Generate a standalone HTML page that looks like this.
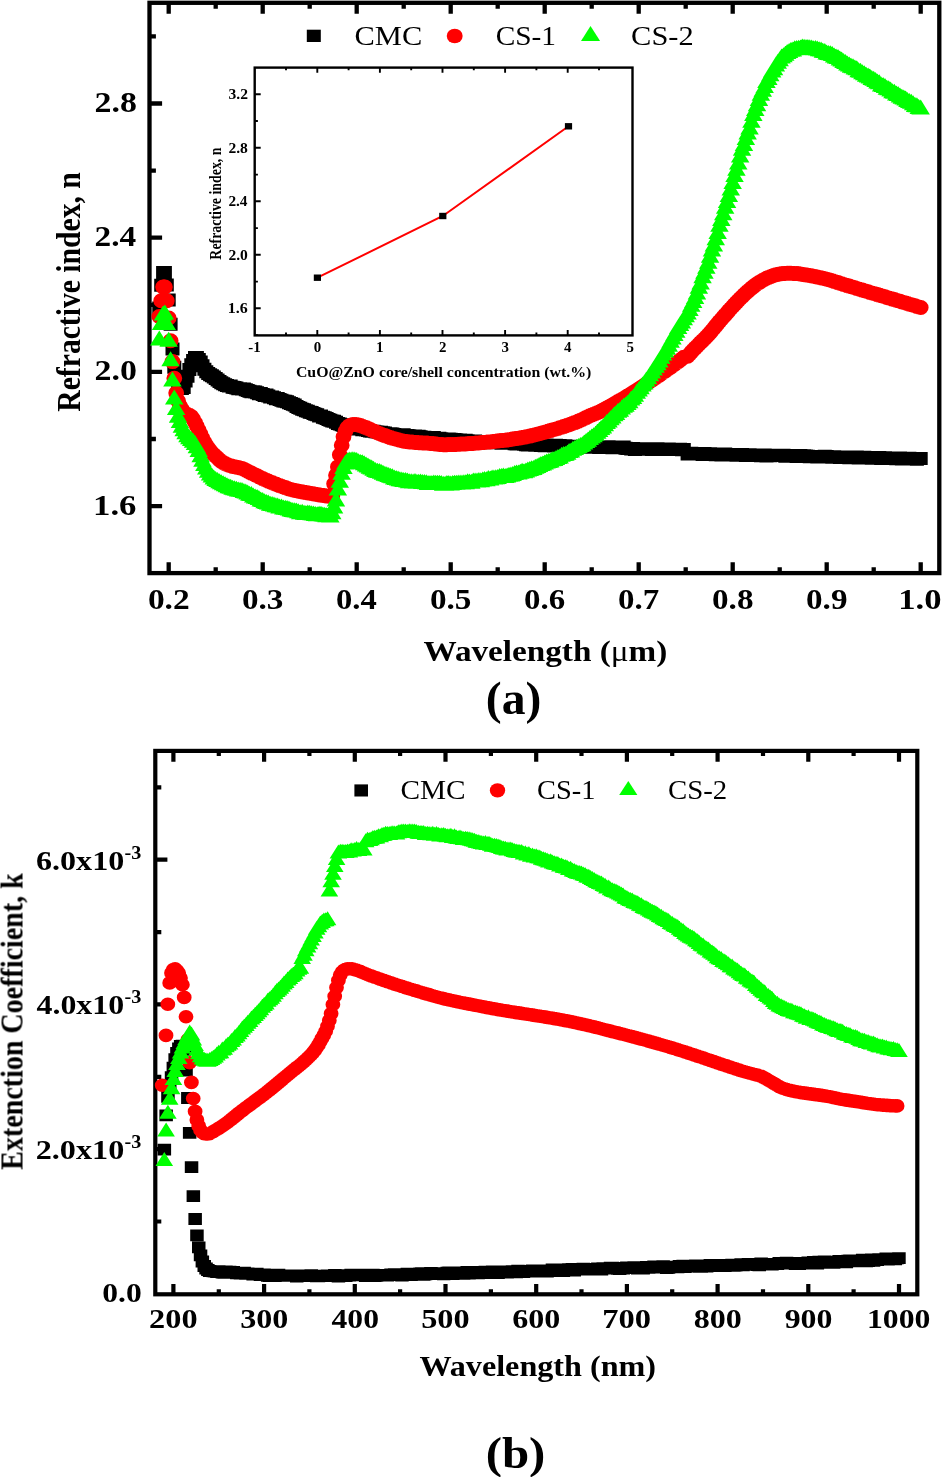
<!DOCTYPE html><html><head><meta charset="utf-8"><title>chart</title><style>html,body{margin:0;padding:0;background:#fff}svg{display:block}text{font-family:"Liberation Serif",serif;fill:#000}</style></head><body>
<svg width="942" height="1477" viewBox="0 0 942 1477">
<rect width="942" height="1477" fill="#fff"/>
<g stroke="#000" stroke-width="4.3" fill="none">
<rect x="149.5" y="2.8" width="789.8" height="570.3"/>
<path d="M168.7 573.1V562.2 M168.7 2.8V13.8M262.7 573.1V562.2 M262.7 2.8V13.8M356.7 573.1V562.2 M356.7 2.8V13.8M450.7 573.1V562.2 M450.7 2.8V13.8M544.7 573.1V562.2 M544.7 2.8V13.8M638.7 573.1V562.2 M638.7 2.8V13.8M732.7 573.1V562.2 M732.7 2.8V13.8M826.7 573.1V562.2 M826.7 2.8V13.8M920.7 573.1V562.2 M920.7 2.8V13.8M215.7 573.1V567.3 M215.7 2.8V8.7M309.7 573.1V567.3 M309.7 2.8V8.7M403.7 573.1V567.3 M403.7 2.8V8.7M497.7 573.1V567.3 M497.7 2.8V8.7M591.7 573.1V567.3 M591.7 2.8V8.7M685.7 573.1V567.3 M685.7 2.8V8.7M779.7 573.1V567.3 M779.7 2.8V8.7M873.7 573.1V567.3 M873.7 2.8V8.7M149.5 103.5H162.1M149.5 36.4H155.9M149.5 237.7H162.1M149.5 170.6H155.9M149.5 371.9H162.1M149.5 304.8H155.9M149.5 506.1H162.1M149.5 439H155.9"/>
</g>
<path fill="#000" d="M152.3 301.5h14v13h-14zM154.2 278.7h14v13h-14zM156.1 266h14v13h-14zM157.9 266h14v13h-14zM159.8 278.6h14v13h-14zM161.7 293.5h14v13h-14zM163.6 317.7h14v13h-14zM165.5 342.5h14v13h-14zM167.3 360.8h14v13h-14zM169.2 370.6h14v13h-14zM171.1 377h14v13h-14zM173 380.5h14v13h-14zM174.9 381.9h14v13h-14zM176.7 381.1h14v13h-14zM178.6 374.5h14v13h-14zM180.5 369.8h14v13h-14zM182.4 362.9h14v13h-14zM184.3 358.2h14v13h-14zM186.1 353.9h14v13h-14zM188 351h14v13h-14zM189.9 351h14v13h-14zM191.8 352.9h14v13h-14zM193.7 355.6h14v13h-14zM195.5 359.2h14v13h-14zM197.4 362.7h14v13h-14zM199.3 365.3h14v13h-14zM201.2 367h14v13h-14zM203.1 368.2h14v13h-14zM204.9 369.2h14v13h-14zM206.8 370.4h14v13h-14zM208.7 372h14v13h-14zM210.6 373.6h14v13h-14zM212.5 375h14v13h-14zM214.3 376.2h14v13h-14zM216.2 377.3h14v13h-14zM218.1 378.2h14v13h-14zM220 378.9h14v13h-14zM221.9 379.5h14v13h-14zM223.7 379.6h14v13h-14zM225.6 380.8h14v13h-14zM227.5 380.9h14v13h-14zM229.4 381.6h14v13h-14zM231.3 382.3h14v13h-14zM233.1 382.2h14v13h-14zM235 382.6h14v13h-14zM236.9 382.6h14v13h-14zM238.8 383.3h14v13h-14zM240.7 384h14v13h-14zM242.5 384.7h14v13h-14zM244.4 385.3h14v13h-14zM246.3 385.3h14v13h-14zM248.2 385.5h14v13h-14zM250.1 386.2h14v13h-14zM251.9 387.3h14v13h-14zM253.8 387.1h14v13h-14zM255.7 387.9h14v13h-14zM257.6 388.9h14v13h-14zM259.5 388.5h14v13h-14zM261.3 389.6h14v13h-14zM263.2 390.5h14v13h-14zM265.1 390.4h14v13h-14zM267 391.3h14v13h-14zM268.9 392.2h14v13h-14zM270.7 392h14v13h-14zM272.6 393h14v13h-14zM274.5 393.8h14v13h-14zM276.4 394.4h14v13h-14zM278.3 394.8h14v13h-14zM280.1 395.2h14v13h-14zM282 396.2h14v13h-14zM283.9 396.9h14v13h-14zM285.8 397.8h14v13h-14zM287.7 398.5h14v13h-14zM289.5 400h14v13h-14zM291.4 401.1h14v13h-14zM293.3 401.7h14v13h-14zM295.2 402.8h14v13h-14zM297.1 403.3h14v13h-14zM298.9 404.2h14v13h-14zM300.8 404.8h14v13h-14zM302.7 405.8h14v13h-14zM304.6 406.1h14v13h-14zM306.5 406.9h14v13h-14zM308.3 407.8h14v13h-14zM310.2 408.2h14v13h-14zM312.1 409.4h14v13h-14zM314 409.4h14v13h-14zM315.9 410.7h14v13h-14zM317.7 411.2h14v13h-14zM319.6 412h14v13h-14zM321.5 413.1h14v13h-14zM323.4 413.8h14v13h-14zM325.3 414.5h14v13h-14zM327.1 414.8h14v13h-14zM329 415.7h14v13h-14zM330.9 417h14v13h-14zM332.8 417.4h14v13h-14zM334.7 418.2h14v13h-14zM336.5 419.1h14v13h-14zM338.4 419.3h14v13h-14zM340.3 419.1h14v13h-14zM342.2 419.9h14v13h-14zM344.1 420.6h14v13h-14zM345.9 420.7h14v13h-14zM347.8 421.8h14v13h-14zM349.7 422.2h14v13h-14zM351.6 422.5h14v13h-14zM353.5 422.6h14v13h-14zM355.3 423.3h14v13h-14zM357.2 423h14v13h-14zM359.1 423.5h14v13h-14zM361 424h14v13h-14zM362.9 424.6h14v13h-14zM364.7 424.7h14v13h-14zM366.6 424.7h14v13h-14zM368.5 425.2h14v13h-14zM370.4 425.4h14v13h-14zM372.3 425.7h14v13h-14zM374.1 425.8h14v13h-14zM376 426.3h14v13h-14zM377.9 426.6h14v13h-14zM379.8 427.2h14v13h-14zM381.7 427.4h14v13h-14zM383.5 427.3h14v13h-14zM385.4 427.5h14v13h-14zM387.3 428h14v13h-14zM389.2 428.3h14v13h-14zM391.1 428.3h14v13h-14zM392.9 428.6h14v13h-14zM394.8 429h14v13h-14zM396.7 428.2h14v13h-14zM398.6 429.3h14v13h-14zM400.5 428.9h14v13h-14zM402.3 429.3h14v13h-14zM404.2 429.8h14v13h-14zM406.1 429.9h14v13h-14zM408 429.5h14v13h-14zM409.9 430.2h14v13h-14zM411.7 429.8h14v13h-14zM413.6 430.3h14v13h-14zM415.5 430.9h14v13h-14zM417.4 430.7h14v13h-14zM419.3 431.1h14v13h-14zM421.1 431.4h14v13h-14zM423 431.6h14v13h-14zM424.9 431.7h14v13h-14zM426.8 431.1h14v13h-14zM428.7 431.7h14v13h-14zM430.5 431.9h14v13h-14zM432.4 431.7h14v13h-14zM434.3 432.3h14v13h-14zM436.2 432.6h14v13h-14zM438.1 432.9h14v13h-14zM439.9 433.2h14v13h-14zM441.8 432.5h14v13h-14zM443.7 432.8h14v13h-14zM445.6 433.4h14v13h-14zM447.5 433h14v13h-14zM449.3 433.2h14v13h-14zM451.2 433.7h14v13h-14zM453.1 433.4h14v13h-14zM455 434.2h14v13h-14zM456.9 434.4h14v13h-14zM458.7 433.7h14v13h-14zM460.6 434.3h14v13h-14zM462.5 434.7h14v13h-14zM464.4 435h14v13h-14zM466.3 434.5h14v13h-14zM468.1 434.5h14v13h-14zM470 435.3h14v13h-14zM471.9 435.5h14v13h-14zM473.8 434.9h14v13h-14zM475.7 435.2h14v13h-14zM477.5 435.6h14v13h-14zM479.4 435.9h14v13h-14zM481.3 435.3h14v13h-14zM483.2 435.9h14v13h-14zM485.1 436.2h14v13h-14zM486.9 436h14v13h-14zM488.8 435.8h14v13h-14zM490.7 435.7h14v13h-14zM492.6 436.1h14v13h-14zM494.5 436.7h14v13h-14zM496.3 436.1h14v13h-14zM498.2 436.2h14v13h-14zM500.1 436.6h14v13h-14zM502 436.4h14v13h-14zM503.9 436.6h14v13h-14zM505.7 436.6h14v13h-14zM507.6 437.2h14v13h-14zM509.5 437.5h14v13h-14zM511.4 437.3h14v13h-14zM513.3 437.2h14v13h-14zM515.1 437.5h14v13h-14zM517 437.8h14v13h-14zM518.9 438.3h14v13h-14zM520.8 438.4h14v13h-14zM522.7 437.8h14v13h-14zM524.5 437.6h14v13h-14zM526.4 438.6h14v13h-14zM528.3 438.8h14v13h-14zM530.2 438.4h14v13h-14zM532.1 438.8h14v13h-14zM533.9 439h14v13h-14zM535.8 438.8h14v13h-14zM537.7 439.2h14v13h-14zM539.6 438.4h14v13h-14zM541.5 438.7h14v13h-14zM543.3 438.8h14v13h-14zM545.2 438.7h14v13h-14zM547.1 439.6h14v13h-14zM549 438.8h14v13h-14zM550.9 439.5h14v13h-14zM552.7 439h14v13h-14zM554.6 439.4h14v13h-14zM556.5 439.5h14v13h-14zM558.4 439.3h14v13h-14zM560.3 439.8h14v13h-14zM562.1 439.9h14v13h-14zM564 439.7h14v13h-14zM565.9 440.2h14v13h-14zM567.8 439.7h14v13h-14zM569.7 439.8h14v13h-14zM571.5 440h14v13h-14zM573.4 440.1h14v13h-14zM575.3 440h14v13h-14zM577.2 440.8h14v13h-14zM579.1 440.8h14v13h-14zM580.9 440.1h14v13h-14zM582.8 440.4h14v13h-14zM584.7 440.3h14v13h-14zM586.6 440.6h14v13h-14zM588.5 440.4h14v13h-14zM590.3 440.7h14v13h-14zM592.2 441.1h14v13h-14zM594.1 440.6h14v13h-14zM596 440.9h14v13h-14zM597.9 440.8h14v13h-14zM599.7 441h14v13h-14zM601.6 440.3h14v13h-14zM603.5 441h14v13h-14zM605.4 441.2h14v13h-14zM607.3 440.9h14v13h-14zM609.1 440.5h14v13h-14zM611 440.9h14v13h-14zM612.9 441h14v13h-14zM614.8 441h14v13h-14zM616.7 440.6h14v13h-14zM618.5 441.7h14v13h-14zM620.4 442.1h14v13h-14zM622.3 442h14v13h-14zM624.2 442.4h14v13h-14zM626.1 442h14v13h-14zM627.9 442.9h14v13h-14zM629.8 442.8h14v13h-14zM631.7 442.7h14v13h-14zM633.6 442.8h14v13h-14zM635.5 442.3h14v13h-14zM637.3 442.4h14v13h-14zM639.2 442.3h14v13h-14zM641.1 442.7h14v13h-14zM643 442.2h14v13h-14zM644.9 443h14v13h-14zM646.7 442.6h14v13h-14zM648.6 442.6h14v13h-14zM650.5 442.3h14v13h-14zM652.4 442.9h14v13h-14zM654.3 443h14v13h-14zM656.1 442.9h14v13h-14zM658 442.5h14v13h-14zM659.9 443.1h14v13h-14zM661.8 442.4h14v13h-14zM663.7 443.1h14v13h-14zM665.5 442.9h14v13h-14zM667.4 442.7h14v13h-14zM669.3 442.9h14v13h-14zM671.2 443h14v13h-14zM673.1 442.7h14v13h-14zM674.9 443.3h14v13h-14zM676.8 442.9h14v13h-14zM680.6 447.4h14v13h-14zM682.5 447.4h14v13h-14zM684.3 446.8h14v13h-14zM686.2 447.4h14v13h-14zM688.1 447.1h14v13h-14zM690 447.6h14v13h-14zM691.9 447.4h14v13h-14zM693.7 447.4h14v13h-14zM695.6 447.9h14v13h-14zM697.5 447.1h14v13h-14zM699.4 447.6h14v13h-14zM701.3 447.4h14v13h-14zM703.1 447.2h14v13h-14zM705 448h14v13h-14zM706.9 447.8h14v13h-14zM708.8 448.2h14v13h-14zM710.7 447.9h14v13h-14zM712.5 447.7h14v13h-14zM714.4 448.4h14v13h-14zM716.3 447.6h14v13h-14zM718.2 447.6h14v13h-14zM720.1 448.3h14v13h-14zM721.9 448h14v13h-14zM723.8 448h14v13h-14zM725.7 448.6h14v13h-14zM727.6 448.1h14v13h-14zM729.5 448.7h14v13h-14zM731.3 448.5h14v13h-14zM733.2 448.2h14v13h-14zM735.1 448h14v13h-14zM737 448.2h14v13h-14zM738.9 449h14v13h-14zM740.7 448.4h14v13h-14zM742.6 448.2h14v13h-14zM744.5 448.4h14v13h-14zM746.4 449.1h14v13h-14zM748.3 448.4h14v13h-14zM750.1 449h14v13h-14zM752 448.4h14v13h-14zM753.9 449.3h14v13h-14zM755.8 448.9h14v13h-14zM757.7 448.4h14v13h-14zM759.5 449.4h14v13h-14zM761.4 448.8h14v13h-14zM763.3 449.2h14v13h-14zM765.2 449.1h14v13h-14zM767.1 448.7h14v13h-14zM768.9 448.7h14v13h-14zM770.8 448.8h14v13h-14zM772.7 448.8h14v13h-14zM774.6 448.8h14v13h-14zM776.5 448.8h14v13h-14zM778.3 449.7h14v13h-14zM780.2 448.9h14v13h-14zM782.1 449.4h14v13h-14zM784 449h14v13h-14zM785.9 449.1h14v13h-14zM787.7 449.7h14v13h-14zM789.6 450h14v13h-14zM791.5 449.5h14v13h-14zM793.4 449.1h14v13h-14zM795.3 450.1h14v13h-14zM797.1 449.2h14v13h-14zM799 449.6h14v13h-14zM800.9 449.8h14v13h-14zM802.8 450.2h14v13h-14zM804.7 450.2h14v13h-14zM806.5 450h14v13h-14zM808.4 449.9h14v13h-14zM810.3 450.4h14v13h-14zM812.2 450.4h14v13h-14zM814.1 450.5h14v13h-14zM815.9 450.4h14v13h-14zM817.8 449.8h14v13h-14zM819.7 450.1h14v13h-14zM821.6 450.3h14v13h-14zM823.5 450.4h14v13h-14zM825.3 450.7h14v13h-14zM827.2 450.2h14v13h-14zM829.1 450.7h14v13h-14zM831 450.4h14v13h-14zM832.9 450.9h14v13h-14zM834.7 450.4h14v13h-14zM836.6 450.7h14v13h-14zM838.5 450.4h14v13h-14zM840.4 450.5h14v13h-14zM842.3 451.3h14v13h-14zM844.1 450.7h14v13h-14zM846 451.3h14v13h-14zM847.9 451h14v13h-14zM849.8 450.6h14v13h-14zM851.7 451.4h14v13h-14zM853.5 450.7h14v13h-14zM855.4 451.5h14v13h-14zM857.3 450.7h14v13h-14zM859.2 451.4h14v13h-14zM861.1 451h14v13h-14zM862.9 451.2h14v13h-14zM864.8 451.8h14v13h-14zM866.7 451.4h14v13h-14zM868.6 451.6h14v13h-14zM870.5 451.7h14v13h-14zM872.3 451.1h14v13h-14zM874.2 451.9h14v13h-14zM876.1 452h14v13h-14zM878 451.3h14v13h-14zM879.9 451.7h14v13h-14zM881.7 451.5h14v13h-14zM883.6 452h14v13h-14zM885.5 451.4h14v13h-14zM887.4 451.9h14v13h-14zM889.3 452.2h14v13h-14zM891.1 452.2h14v13h-14zM893 451.6h14v13h-14zM894.9 452.4h14v13h-14zM896.8 451.8h14v13h-14zM898.7 452.4h14v13h-14zM900.5 452.1h14v13h-14zM902.4 451.8h14v13h-14zM904.3 452.4h14v13h-14zM906.2 452.6h14v13h-14zM908.1 452.5h14v13h-14zM909.9 452.8h14v13h-14zM911.8 452.1h14v13h-14zM913.7 452.1h14v13h-14z"/>
<path fill="#ff0000" d="M151.4 316.5a7.9 7.5 0 1 0 15.8 0a7.9 7.5 0 1 0 -15.8 0zM153.3 300.8a7.9 7.5 0 1 0 15.8 0a7.9 7.5 0 1 0 -15.8 0zM155.2 287a7.9 7.5 0 1 0 15.8 0a7.9 7.5 0 1 0 -15.8 0zM157 287a7.9 7.5 0 1 0 15.8 0a7.9 7.5 0 1 0 -15.8 0zM158.9 300.8a7.9 7.5 0 1 0 15.8 0a7.9 7.5 0 1 0 -15.8 0zM160.8 318a7.9 7.5 0 1 0 15.8 0a7.9 7.5 0 1 0 -15.8 0zM162.7 340.8a7.9 7.5 0 1 0 15.8 0a7.9 7.5 0 1 0 -15.8 0zM164.6 361.6a7.9 7.5 0 1 0 15.8 0a7.9 7.5 0 1 0 -15.8 0zM166.4 378.3a7.9 7.5 0 1 0 15.8 0a7.9 7.5 0 1 0 -15.8 0zM168.3 393.1a7.9 7.5 0 1 0 15.8 0a7.9 7.5 0 1 0 -15.8 0zM170.2 401a7.9 7.5 0 1 0 15.8 0a7.9 7.5 0 1 0 -15.8 0zM172.1 406a7.9 7.5 0 1 0 15.8 0a7.9 7.5 0 1 0 -15.8 0zM174 409.4a7.9 7.5 0 1 0 15.8 0a7.9 7.5 0 1 0 -15.8 0zM175.8 412a7.9 7.5 0 1 0 15.8 0a7.9 7.5 0 1 0 -15.8 0zM177.7 413.5a7.9 7.5 0 1 0 15.8 0a7.9 7.5 0 1 0 -15.8 0zM179.6 414.5a7.9 7.5 0 1 0 15.8 0a7.9 7.5 0 1 0 -15.8 0zM181.5 415.2a7.9 7.5 0 1 0 15.8 0a7.9 7.5 0 1 0 -15.8 0zM183.4 416.5a7.9 7.5 0 1 0 15.8 0a7.9 7.5 0 1 0 -15.8 0zM185.2 419.1a7.9 7.5 0 1 0 15.8 0a7.9 7.5 0 1 0 -15.8 0zM187.1 422.5a7.9 7.5 0 1 0 15.8 0a7.9 7.5 0 1 0 -15.8 0zM189 426.2a7.9 7.5 0 1 0 15.8 0a7.9 7.5 0 1 0 -15.8 0zM190.9 430.2a7.9 7.5 0 1 0 15.8 0a7.9 7.5 0 1 0 -15.8 0zM192.8 434.4a7.9 7.5 0 1 0 15.8 0a7.9 7.5 0 1 0 -15.8 0zM194.6 438.4a7.9 7.5 0 1 0 15.8 0a7.9 7.5 0 1 0 -15.8 0zM196.5 442a7.9 7.5 0 1 0 15.8 0a7.9 7.5 0 1 0 -15.8 0zM198.4 445.2a7.9 7.5 0 1 0 15.8 0a7.9 7.5 0 1 0 -15.8 0zM200.3 448.1a7.9 7.5 0 1 0 15.8 0a7.9 7.5 0 1 0 -15.8 0zM202.2 450.6a7.9 7.5 0 1 0 15.8 0a7.9 7.5 0 1 0 -15.8 0zM204 452.7a7.9 7.5 0 1 0 15.8 0a7.9 7.5 0 1 0 -15.8 0zM205.9 454.5a7.9 7.5 0 1 0 15.8 0a7.9 7.5 0 1 0 -15.8 0zM207.8 456.3a7.9 7.5 0 1 0 15.8 0a7.9 7.5 0 1 0 -15.8 0zM209.7 458a7.9 7.5 0 1 0 15.8 0a7.9 7.5 0 1 0 -15.8 0zM211.6 459.9a7.9 7.5 0 1 0 15.8 0a7.9 7.5 0 1 0 -15.8 0zM213.4 461.5a7.9 7.5 0 1 0 15.8 0a7.9 7.5 0 1 0 -15.8 0zM215.3 462.6a7.9 7.5 0 1 0 15.8 0a7.9 7.5 0 1 0 -15.8 0zM217.2 463.6a7.9 7.5 0 1 0 15.8 0a7.9 7.5 0 1 0 -15.8 0zM219.1 464.5a7.9 7.5 0 1 0 15.8 0a7.9 7.5 0 1 0 -15.8 0zM221 465.2a7.9 7.5 0 1 0 15.8 0a7.9 7.5 0 1 0 -15.8 0zM222.8 465.8a7.9 7.5 0 1 0 15.8 0a7.9 7.5 0 1 0 -15.8 0zM224.7 466.4a7.9 7.5 0 1 0 15.8 0a7.9 7.5 0 1 0 -15.8 0zM226.6 466.8a7.9 7.5 0 1 0 15.8 0a7.9 7.5 0 1 0 -15.8 0zM228.5 467.2a7.9 7.5 0 1 0 15.8 0a7.9 7.5 0 1 0 -15.8 0zM230.4 467.5a7.9 7.5 0 1 0 15.8 0a7.9 7.5 0 1 0 -15.8 0zM232.2 468a7.9 7.5 0 1 0 15.8 0a7.9 7.5 0 1 0 -15.8 0zM234.1 468.5a7.9 7.5 0 1 0 15.8 0a7.9 7.5 0 1 0 -15.8 0zM236 469.3a7.9 7.5 0 1 0 15.8 0a7.9 7.5 0 1 0 -15.8 0zM237.9 470.2a7.9 7.5 0 1 0 15.8 0a7.9 7.5 0 1 0 -15.8 0zM239.8 471.2a7.9 7.5 0 1 0 15.8 0a7.9 7.5 0 1 0 -15.8 0zM241.6 472.2a7.9 7.5 0 1 0 15.8 0a7.9 7.5 0 1 0 -15.8 0zM243.5 473.1a7.9 7.5 0 1 0 15.8 0a7.9 7.5 0 1 0 -15.8 0zM245.4 474a7.9 7.5 0 1 0 15.8 0a7.9 7.5 0 1 0 -15.8 0zM247.3 474.9a7.9 7.5 0 1 0 15.8 0a7.9 7.5 0 1 0 -15.8 0zM249.2 475.8a7.9 7.5 0 1 0 15.8 0a7.9 7.5 0 1 0 -15.8 0zM251 476.8a7.9 7.5 0 1 0 15.8 0a7.9 7.5 0 1 0 -15.8 0zM252.9 477.7a7.9 7.5 0 1 0 15.8 0a7.9 7.5 0 1 0 -15.8 0zM254.8 478.6a7.9 7.5 0 1 0 15.8 0a7.9 7.5 0 1 0 -15.8 0zM256.7 479.5a7.9 7.5 0 1 0 15.8 0a7.9 7.5 0 1 0 -15.8 0zM258.6 480.3a7.9 7.5 0 1 0 15.8 0a7.9 7.5 0 1 0 -15.8 0zM260.4 481.1a7.9 7.5 0 1 0 15.8 0a7.9 7.5 0 1 0 -15.8 0zM262.3 481.9a7.9 7.5 0 1 0 15.8 0a7.9 7.5 0 1 0 -15.8 0zM264.2 482.6a7.9 7.5 0 1 0 15.8 0a7.9 7.5 0 1 0 -15.8 0zM266.1 483.4a7.9 7.5 0 1 0 15.8 0a7.9 7.5 0 1 0 -15.8 0zM268 484.1a7.9 7.5 0 1 0 15.8 0a7.9 7.5 0 1 0 -15.8 0zM269.8 484.9a7.9 7.5 0 1 0 15.8 0a7.9 7.5 0 1 0 -15.8 0zM271.7 485.6a7.9 7.5 0 1 0 15.8 0a7.9 7.5 0 1 0 -15.8 0zM273.6 486.3a7.9 7.5 0 1 0 15.8 0a7.9 7.5 0 1 0 -15.8 0zM275.5 487a7.9 7.5 0 1 0 15.8 0a7.9 7.5 0 1 0 -15.8 0zM277.4 487.6a7.9 7.5 0 1 0 15.8 0a7.9 7.5 0 1 0 -15.8 0zM279.2 488.3a7.9 7.5 0 1 0 15.8 0a7.9 7.5 0 1 0 -15.8 0zM281.1 488.9a7.9 7.5 0 1 0 15.8 0a7.9 7.5 0 1 0 -15.8 0zM283 489.4a7.9 7.5 0 1 0 15.8 0a7.9 7.5 0 1 0 -15.8 0zM284.9 489.9a7.9 7.5 0 1 0 15.8 0a7.9 7.5 0 1 0 -15.8 0zM286.8 490.4a7.9 7.5 0 1 0 15.8 0a7.9 7.5 0 1 0 -15.8 0zM288.6 490.8a7.9 7.5 0 1 0 15.8 0a7.9 7.5 0 1 0 -15.8 0zM290.5 491.2a7.9 7.5 0 1 0 15.8 0a7.9 7.5 0 1 0 -15.8 0zM292.4 491.6a7.9 7.5 0 1 0 15.8 0a7.9 7.5 0 1 0 -15.8 0zM294.3 491.9a7.9 7.5 0 1 0 15.8 0a7.9 7.5 0 1 0 -15.8 0zM296.2 492.3a7.9 7.5 0 1 0 15.8 0a7.9 7.5 0 1 0 -15.8 0zM298 492.6a7.9 7.5 0 1 0 15.8 0a7.9 7.5 0 1 0 -15.8 0zM299.9 493a7.9 7.5 0 1 0 15.8 0a7.9 7.5 0 1 0 -15.8 0zM301.8 493.3a7.9 7.5 0 1 0 15.8 0a7.9 7.5 0 1 0 -15.8 0zM303.7 493.6a7.9 7.5 0 1 0 15.8 0a7.9 7.5 0 1 0 -15.8 0zM305.6 494a7.9 7.5 0 1 0 15.8 0a7.9 7.5 0 1 0 -15.8 0zM307.4 494.3a7.9 7.5 0 1 0 15.8 0a7.9 7.5 0 1 0 -15.8 0zM309.3 494.6a7.9 7.5 0 1 0 15.8 0a7.9 7.5 0 1 0 -15.8 0zM311.2 494.9a7.9 7.5 0 1 0 15.8 0a7.9 7.5 0 1 0 -15.8 0zM313.1 495.2a7.9 7.5 0 1 0 15.8 0a7.9 7.5 0 1 0 -15.8 0zM315 495.5a7.9 7.5 0 1 0 15.8 0a7.9 7.5 0 1 0 -15.8 0zM316.8 495.8a7.9 7.5 0 1 0 15.8 0a7.9 7.5 0 1 0 -15.8 0zM318.7 496.1a7.9 7.5 0 1 0 15.8 0a7.9 7.5 0 1 0 -15.8 0zM320.6 496.3a7.9 7.5 0 1 0 15.8 0a7.9 7.5 0 1 0 -15.8 0zM322.5 496.4a7.9 7.5 0 1 0 15.8 0a7.9 7.5 0 1 0 -15.8 0zM324.4 496a7.9 7.5 0 1 0 15.8 0a7.9 7.5 0 1 0 -15.8 0zM326.2 483.8a7.9 7.5 0 1 0 15.8 0a7.9 7.5 0 1 0 -15.8 0zM328.1 475.3a7.9 7.5 0 1 0 15.8 0a7.9 7.5 0 1 0 -15.8 0zM330 466.9a7.9 7.5 0 1 0 15.8 0a7.9 7.5 0 1 0 -15.8 0zM331.9 454.7a7.9 7.5 0 1 0 15.8 0a7.9 7.5 0 1 0 -15.8 0zM333.8 445.3a7.9 7.5 0 1 0 15.8 0a7.9 7.5 0 1 0 -15.8 0zM335.6 436.7a7.9 7.5 0 1 0 15.8 0a7.9 7.5 0 1 0 -15.8 0zM337.5 431.2a7.9 7.5 0 1 0 15.8 0a7.9 7.5 0 1 0 -15.8 0zM339.4 427.8a7.9 7.5 0 1 0 15.8 0a7.9 7.5 0 1 0 -15.8 0zM341.3 425.9a7.9 7.5 0 1 0 15.8 0a7.9 7.5 0 1 0 -15.8 0zM343.2 425a7.9 7.5 0 1 0 15.8 0a7.9 7.5 0 1 0 -15.8 0zM345 424.5a7.9 7.5 0 1 0 15.8 0a7.9 7.5 0 1 0 -15.8 0zM346.9 424.4a7.9 7.5 0 1 0 15.8 0a7.9 7.5 0 1 0 -15.8 0zM348.8 424.7a7.9 7.5 0 1 0 15.8 0a7.9 7.5 0 1 0 -15.8 0zM350.7 425.1a7.9 7.5 0 1 0 15.8 0a7.9 7.5 0 1 0 -15.8 0zM352.6 425.6a7.9 7.5 0 1 0 15.8 0a7.9 7.5 0 1 0 -15.8 0zM354.4 426.2a7.9 7.5 0 1 0 15.8 0a7.9 7.5 0 1 0 -15.8 0zM356.3 426.9a7.9 7.5 0 1 0 15.8 0a7.9 7.5 0 1 0 -15.8 0zM358.2 427.6a7.9 7.5 0 1 0 15.8 0a7.9 7.5 0 1 0 -15.8 0zM360.1 428.4a7.9 7.5 0 1 0 15.8 0a7.9 7.5 0 1 0 -15.8 0zM362 429.3a7.9 7.5 0 1 0 15.8 0a7.9 7.5 0 1 0 -15.8 0zM363.8 430.2a7.9 7.5 0 1 0 15.8 0a7.9 7.5 0 1 0 -15.8 0zM365.7 431a7.9 7.5 0 1 0 15.8 0a7.9 7.5 0 1 0 -15.8 0zM367.6 431.8a7.9 7.5 0 1 0 15.8 0a7.9 7.5 0 1 0 -15.8 0zM369.5 432.7a7.9 7.5 0 1 0 15.8 0a7.9 7.5 0 1 0 -15.8 0zM371.4 433.5a7.9 7.5 0 1 0 15.8 0a7.9 7.5 0 1 0 -15.8 0zM373.2 434.3a7.9 7.5 0 1 0 15.8 0a7.9 7.5 0 1 0 -15.8 0zM375.1 435a7.9 7.5 0 1 0 15.8 0a7.9 7.5 0 1 0 -15.8 0zM377 435.6a7.9 7.5 0 1 0 15.8 0a7.9 7.5 0 1 0 -15.8 0zM378.9 436.3a7.9 7.5 0 1 0 15.8 0a7.9 7.5 0 1 0 -15.8 0zM380.8 436.9a7.9 7.5 0 1 0 15.8 0a7.9 7.5 0 1 0 -15.8 0zM382.6 437.6a7.9 7.5 0 1 0 15.8 0a7.9 7.5 0 1 0 -15.8 0zM384.5 438.2a7.9 7.5 0 1 0 15.8 0a7.9 7.5 0 1 0 -15.8 0zM386.4 438.7a7.9 7.5 0 1 0 15.8 0a7.9 7.5 0 1 0 -15.8 0zM388.3 439.3a7.9 7.5 0 1 0 15.8 0a7.9 7.5 0 1 0 -15.8 0zM390.2 439.8a7.9 7.5 0 1 0 15.8 0a7.9 7.5 0 1 0 -15.8 0zM392 440.3a7.9 7.5 0 1 0 15.8 0a7.9 7.5 0 1 0 -15.8 0zM393.9 440.8a7.9 7.5 0 1 0 15.8 0a7.9 7.5 0 1 0 -15.8 0zM395.8 441.2a7.9 7.5 0 1 0 15.8 0a7.9 7.5 0 1 0 -15.8 0zM397.7 441.5a7.9 7.5 0 1 0 15.8 0a7.9 7.5 0 1 0 -15.8 0zM399.6 441.8a7.9 7.5 0 1 0 15.8 0a7.9 7.5 0 1 0 -15.8 0zM401.4 442a7.9 7.5 0 1 0 15.8 0a7.9 7.5 0 1 0 -15.8 0zM403.3 442.1a7.9 7.5 0 1 0 15.8 0a7.9 7.5 0 1 0 -15.8 0zM405.2 442.3a7.9 7.5 0 1 0 15.8 0a7.9 7.5 0 1 0 -15.8 0zM407.1 442.4a7.9 7.5 0 1 0 15.8 0a7.9 7.5 0 1 0 -15.8 0zM409 442.5a7.9 7.5 0 1 0 15.8 0a7.9 7.5 0 1 0 -15.8 0zM410.8 442.7a7.9 7.5 0 1 0 15.8 0a7.9 7.5 0 1 0 -15.8 0zM412.7 442.8a7.9 7.5 0 1 0 15.8 0a7.9 7.5 0 1 0 -15.8 0zM414.6 442.9a7.9 7.5 0 1 0 15.8 0a7.9 7.5 0 1 0 -15.8 0zM416.5 443a7.9 7.5 0 1 0 15.8 0a7.9 7.5 0 1 0 -15.8 0zM418.4 443.1a7.9 7.5 0 1 0 15.8 0a7.9 7.5 0 1 0 -15.8 0zM420.2 443.3a7.9 7.5 0 1 0 15.8 0a7.9 7.5 0 1 0 -15.8 0zM422.1 443.4a7.9 7.5 0 1 0 15.8 0a7.9 7.5 0 1 0 -15.8 0zM424 443.6a7.9 7.5 0 1 0 15.8 0a7.9 7.5 0 1 0 -15.8 0zM425.9 443.8a7.9 7.5 0 1 0 15.8 0a7.9 7.5 0 1 0 -15.8 0zM427.8 444.1a7.9 7.5 0 1 0 15.8 0a7.9 7.5 0 1 0 -15.8 0zM429.6 444.3a7.9 7.5 0 1 0 15.8 0a7.9 7.5 0 1 0 -15.8 0zM431.5 444.5a7.9 7.5 0 1 0 15.8 0a7.9 7.5 0 1 0 -15.8 0zM433.4 444.6a7.9 7.5 0 1 0 15.8 0a7.9 7.5 0 1 0 -15.8 0zM435.3 444.7a7.9 7.5 0 1 0 15.8 0a7.9 7.5 0 1 0 -15.8 0zM437.2 444.7a7.9 7.5 0 1 0 15.8 0a7.9 7.5 0 1 0 -15.8 0zM439 444.7a7.9 7.5 0 1 0 15.8 0a7.9 7.5 0 1 0 -15.8 0zM440.9 444.6a7.9 7.5 0 1 0 15.8 0a7.9 7.5 0 1 0 -15.8 0zM442.8 444.6a7.9 7.5 0 1 0 15.8 0a7.9 7.5 0 1 0 -15.8 0zM444.7 444.5a7.9 7.5 0 1 0 15.8 0a7.9 7.5 0 1 0 -15.8 0zM446.6 444.4a7.9 7.5 0 1 0 15.8 0a7.9 7.5 0 1 0 -15.8 0zM448.4 444.4a7.9 7.5 0 1 0 15.8 0a7.9 7.5 0 1 0 -15.8 0zM450.3 444.3a7.9 7.5 0 1 0 15.8 0a7.9 7.5 0 1 0 -15.8 0zM452.2 444.2a7.9 7.5 0 1 0 15.8 0a7.9 7.5 0 1 0 -15.8 0zM454.1 444.1a7.9 7.5 0 1 0 15.8 0a7.9 7.5 0 1 0 -15.8 0zM456 444a7.9 7.5 0 1 0 15.8 0a7.9 7.5 0 1 0 -15.8 0zM457.8 443.9a7.9 7.5 0 1 0 15.8 0a7.9 7.5 0 1 0 -15.8 0zM459.7 443.8a7.9 7.5 0 1 0 15.8 0a7.9 7.5 0 1 0 -15.8 0zM461.6 443.6a7.9 7.5 0 1 0 15.8 0a7.9 7.5 0 1 0 -15.8 0zM463.5 443.5a7.9 7.5 0 1 0 15.8 0a7.9 7.5 0 1 0 -15.8 0zM465.4 443.4a7.9 7.5 0 1 0 15.8 0a7.9 7.5 0 1 0 -15.8 0zM467.2 443.2a7.9 7.5 0 1 0 15.8 0a7.9 7.5 0 1 0 -15.8 0zM469.1 443.1a7.9 7.5 0 1 0 15.8 0a7.9 7.5 0 1 0 -15.8 0zM471 442.9a7.9 7.5 0 1 0 15.8 0a7.9 7.5 0 1 0 -15.8 0zM472.9 442.7a7.9 7.5 0 1 0 15.8 0a7.9 7.5 0 1 0 -15.8 0zM474.8 442.6a7.9 7.5 0 1 0 15.8 0a7.9 7.5 0 1 0 -15.8 0zM476.6 442.4a7.9 7.5 0 1 0 15.8 0a7.9 7.5 0 1 0 -15.8 0zM478.5 442.2a7.9 7.5 0 1 0 15.8 0a7.9 7.5 0 1 0 -15.8 0zM480.4 442a7.9 7.5 0 1 0 15.8 0a7.9 7.5 0 1 0 -15.8 0zM482.3 441.9a7.9 7.5 0 1 0 15.8 0a7.9 7.5 0 1 0 -15.8 0zM484.2 441.7a7.9 7.5 0 1 0 15.8 0a7.9 7.5 0 1 0 -15.8 0zM486 441.5a7.9 7.5 0 1 0 15.8 0a7.9 7.5 0 1 0 -15.8 0zM487.9 441.3a7.9 7.5 0 1 0 15.8 0a7.9 7.5 0 1 0 -15.8 0zM489.8 441.1a7.9 7.5 0 1 0 15.8 0a7.9 7.5 0 1 0 -15.8 0zM491.7 440.8a7.9 7.5 0 1 0 15.8 0a7.9 7.5 0 1 0 -15.8 0zM493.6 440.6a7.9 7.5 0 1 0 15.8 0a7.9 7.5 0 1 0 -15.8 0zM495.4 440.4a7.9 7.5 0 1 0 15.8 0a7.9 7.5 0 1 0 -15.8 0zM497.3 440.2a7.9 7.5 0 1 0 15.8 0a7.9 7.5 0 1 0 -15.8 0zM499.2 439.9a7.9 7.5 0 1 0 15.8 0a7.9 7.5 0 1 0 -15.8 0zM501.1 439.7a7.9 7.5 0 1 0 15.8 0a7.9 7.5 0 1 0 -15.8 0zM503 439.4a7.9 7.5 0 1 0 15.8 0a7.9 7.5 0 1 0 -15.8 0zM504.8 439.1a7.9 7.5 0 1 0 15.8 0a7.9 7.5 0 1 0 -15.8 0zM506.7 438.8a7.9 7.5 0 1 0 15.8 0a7.9 7.5 0 1 0 -15.8 0zM508.6 438.6a7.9 7.5 0 1 0 15.8 0a7.9 7.5 0 1 0 -15.8 0zM510.5 438.3a7.9 7.5 0 1 0 15.8 0a7.9 7.5 0 1 0 -15.8 0zM512.4 438a7.9 7.5 0 1 0 15.8 0a7.9 7.5 0 1 0 -15.8 0zM514.2 437.6a7.9 7.5 0 1 0 15.8 0a7.9 7.5 0 1 0 -15.8 0zM516.1 437.3a7.9 7.5 0 1 0 15.8 0a7.9 7.5 0 1 0 -15.8 0zM518 436.9a7.9 7.5 0 1 0 15.8 0a7.9 7.5 0 1 0 -15.8 0zM519.9 436.5a7.9 7.5 0 1 0 15.8 0a7.9 7.5 0 1 0 -15.8 0zM521.8 436.1a7.9 7.5 0 1 0 15.8 0a7.9 7.5 0 1 0 -15.8 0zM523.6 435.7a7.9 7.5 0 1 0 15.8 0a7.9 7.5 0 1 0 -15.8 0zM525.5 435.2a7.9 7.5 0 1 0 15.8 0a7.9 7.5 0 1 0 -15.8 0zM527.4 434.8a7.9 7.5 0 1 0 15.8 0a7.9 7.5 0 1 0 -15.8 0zM529.3 434.3a7.9 7.5 0 1 0 15.8 0a7.9 7.5 0 1 0 -15.8 0zM531.2 433.8a7.9 7.5 0 1 0 15.8 0a7.9 7.5 0 1 0 -15.8 0zM533 433.3a7.9 7.5 0 1 0 15.8 0a7.9 7.5 0 1 0 -15.8 0zM534.9 432.8a7.9 7.5 0 1 0 15.8 0a7.9 7.5 0 1 0 -15.8 0zM536.8 432.2a7.9 7.5 0 1 0 15.8 0a7.9 7.5 0 1 0 -15.8 0zM538.7 431.7a7.9 7.5 0 1 0 15.8 0a7.9 7.5 0 1 0 -15.8 0zM540.6 431.1a7.9 7.5 0 1 0 15.8 0a7.9 7.5 0 1 0 -15.8 0zM542.4 430.6a7.9 7.5 0 1 0 15.8 0a7.9 7.5 0 1 0 -15.8 0zM544.3 430a7.9 7.5 0 1 0 15.8 0a7.9 7.5 0 1 0 -15.8 0zM546.2 429.5a7.9 7.5 0 1 0 15.8 0a7.9 7.5 0 1 0 -15.8 0zM548.1 428.9a7.9 7.5 0 1 0 15.8 0a7.9 7.5 0 1 0 -15.8 0zM550 428.4a7.9 7.5 0 1 0 15.8 0a7.9 7.5 0 1 0 -15.8 0zM551.8 427.8a7.9 7.5 0 1 0 15.8 0a7.9 7.5 0 1 0 -15.8 0zM553.7 427.2a7.9 7.5 0 1 0 15.8 0a7.9 7.5 0 1 0 -15.8 0zM555.6 426.6a7.9 7.5 0 1 0 15.8 0a7.9 7.5 0 1 0 -15.8 0zM557.5 426a7.9 7.5 0 1 0 15.8 0a7.9 7.5 0 1 0 -15.8 0zM559.4 425.3a7.9 7.5 0 1 0 15.8 0a7.9 7.5 0 1 0 -15.8 0zM561.2 424.7a7.9 7.5 0 1 0 15.8 0a7.9 7.5 0 1 0 -15.8 0zM563.1 424a7.9 7.5 0 1 0 15.8 0a7.9 7.5 0 1 0 -15.8 0zM565 423.3a7.9 7.5 0 1 0 15.8 0a7.9 7.5 0 1 0 -15.8 0zM566.9 422.6a7.9 7.5 0 1 0 15.8 0a7.9 7.5 0 1 0 -15.8 0zM568.8 421.9a7.9 7.5 0 1 0 15.8 0a7.9 7.5 0 1 0 -15.8 0zM570.6 421.1a7.9 7.5 0 1 0 15.8 0a7.9 7.5 0 1 0 -15.8 0zM572.5 420.3a7.9 7.5 0 1 0 15.8 0a7.9 7.5 0 1 0 -15.8 0zM574.4 419.5a7.9 7.5 0 1 0 15.8 0a7.9 7.5 0 1 0 -15.8 0zM576.3 418.5a7.9 7.5 0 1 0 15.8 0a7.9 7.5 0 1 0 -15.8 0zM578.2 417.6a7.9 7.5 0 1 0 15.8 0a7.9 7.5 0 1 0 -15.8 0zM580 416.7a7.9 7.5 0 1 0 15.8 0a7.9 7.5 0 1 0 -15.8 0zM581.9 415.8a7.9 7.5 0 1 0 15.8 0a7.9 7.5 0 1 0 -15.8 0zM583.8 415a7.9 7.5 0 1 0 15.8 0a7.9 7.5 0 1 0 -15.8 0zM585.7 414.2a7.9 7.5 0 1 0 15.8 0a7.9 7.5 0 1 0 -15.8 0zM587.6 413.5a7.9 7.5 0 1 0 15.8 0a7.9 7.5 0 1 0 -15.8 0zM589.4 412.8a7.9 7.5 0 1 0 15.8 0a7.9 7.5 0 1 0 -15.8 0zM591.3 412a7.9 7.5 0 1 0 15.8 0a7.9 7.5 0 1 0 -15.8 0zM593.2 411.1a7.9 7.5 0 1 0 15.8 0a7.9 7.5 0 1 0 -15.8 0zM595.1 410.1a7.9 7.5 0 1 0 15.8 0a7.9 7.5 0 1 0 -15.8 0zM597 409.1a7.9 7.5 0 1 0 15.8 0a7.9 7.5 0 1 0 -15.8 0zM598.8 408.1a7.9 7.5 0 1 0 15.8 0a7.9 7.5 0 1 0 -15.8 0zM600.7 407a7.9 7.5 0 1 0 15.8 0a7.9 7.5 0 1 0 -15.8 0zM602.6 406a7.9 7.5 0 1 0 15.8 0a7.9 7.5 0 1 0 -15.8 0zM604.5 404.9a7.9 7.5 0 1 0 15.8 0a7.9 7.5 0 1 0 -15.8 0zM606.4 403.8a7.9 7.5 0 1 0 15.8 0a7.9 7.5 0 1 0 -15.8 0zM608.2 402.7a7.9 7.5 0 1 0 15.8 0a7.9 7.5 0 1 0 -15.8 0zM610.1 401.6a7.9 7.5 0 1 0 15.8 0a7.9 7.5 0 1 0 -15.8 0zM612 400.6a7.9 7.5 0 1 0 15.8 0a7.9 7.5 0 1 0 -15.8 0zM613.9 399.5a7.9 7.5 0 1 0 15.8 0a7.9 7.5 0 1 0 -15.8 0zM615.8 398.4a7.9 7.5 0 1 0 15.8 0a7.9 7.5 0 1 0 -15.8 0zM617.6 397.3a7.9 7.5 0 1 0 15.8 0a7.9 7.5 0 1 0 -15.8 0zM619.5 396.1a7.9 7.5 0 1 0 15.8 0a7.9 7.5 0 1 0 -15.8 0zM621.4 395a7.9 7.5 0 1 0 15.8 0a7.9 7.5 0 1 0 -15.8 0zM623.3 393.8a7.9 7.5 0 1 0 15.8 0a7.9 7.5 0 1 0 -15.8 0zM625.2 392.6a7.9 7.5 0 1 0 15.8 0a7.9 7.5 0 1 0 -15.8 0zM627 391.4a7.9 7.5 0 1 0 15.8 0a7.9 7.5 0 1 0 -15.8 0zM628.9 390.2a7.9 7.5 0 1 0 15.8 0a7.9 7.5 0 1 0 -15.8 0zM630.8 389a7.9 7.5 0 1 0 15.8 0a7.9 7.5 0 1 0 -15.8 0zM632.7 387.8a7.9 7.5 0 1 0 15.8 0a7.9 7.5 0 1 0 -15.8 0zM634.6 386.5a7.9 7.5 0 1 0 15.8 0a7.9 7.5 0 1 0 -15.8 0zM636.4 385.3a7.9 7.5 0 1 0 15.8 0a7.9 7.5 0 1 0 -15.8 0zM638.3 384a7.9 7.5 0 1 0 15.8 0a7.9 7.5 0 1 0 -15.8 0zM640.2 382.8a7.9 7.5 0 1 0 15.8 0a7.9 7.5 0 1 0 -15.8 0zM642.1 381.5a7.9 7.5 0 1 0 15.8 0a7.9 7.5 0 1 0 -15.8 0zM644 380.2a7.9 7.5 0 1 0 15.8 0a7.9 7.5 0 1 0 -15.8 0zM645.8 379a7.9 7.5 0 1 0 15.8 0a7.9 7.5 0 1 0 -15.8 0zM647.7 377.7a7.9 7.5 0 1 0 15.8 0a7.9 7.5 0 1 0 -15.8 0zM649.6 376.4a7.9 7.5 0 1 0 15.8 0a7.9 7.5 0 1 0 -15.8 0zM651.5 375.1a7.9 7.5 0 1 0 15.8 0a7.9 7.5 0 1 0 -15.8 0zM653.4 373.8a7.9 7.5 0 1 0 15.8 0a7.9 7.5 0 1 0 -15.8 0zM655.2 372.5a7.9 7.5 0 1 0 15.8 0a7.9 7.5 0 1 0 -15.8 0zM657.1 371.2a7.9 7.5 0 1 0 15.8 0a7.9 7.5 0 1 0 -15.8 0zM659 369.8a7.9 7.5 0 1 0 15.8 0a7.9 7.5 0 1 0 -15.8 0zM660.9 368.5a7.9 7.5 0 1 0 15.8 0a7.9 7.5 0 1 0 -15.8 0zM662.8 367.2a7.9 7.5 0 1 0 15.8 0a7.9 7.5 0 1 0 -15.8 0zM664.6 365.8a7.9 7.5 0 1 0 15.8 0a7.9 7.5 0 1 0 -15.8 0zM666.5 364.4a7.9 7.5 0 1 0 15.8 0a7.9 7.5 0 1 0 -15.8 0zM668.4 363a7.9 7.5 0 1 0 15.8 0a7.9 7.5 0 1 0 -15.8 0zM670.3 361.6a7.9 7.5 0 1 0 15.8 0a7.9 7.5 0 1 0 -15.8 0zM672.2 360.2a7.9 7.5 0 1 0 15.8 0a7.9 7.5 0 1 0 -15.8 0zM674 358.8a7.9 7.5 0 1 0 15.8 0a7.9 7.5 0 1 0 -15.8 0zM675.9 357.3a7.9 7.5 0 1 0 15.8 0a7.9 7.5 0 1 0 -15.8 0zM679.7 356.3a7.9 7.5 0 1 0 15.8 0a7.9 7.5 0 1 0 -15.8 0zM681.6 354.3a7.9 7.5 0 1 0 15.8 0a7.9 7.5 0 1 0 -15.8 0zM683.4 352.1a7.9 7.5 0 1 0 15.8 0a7.9 7.5 0 1 0 -15.8 0zM685.3 350a7.9 7.5 0 1 0 15.8 0a7.9 7.5 0 1 0 -15.8 0zM687.2 348.1a7.9 7.5 0 1 0 15.8 0a7.9 7.5 0 1 0 -15.8 0zM689.1 346.2a7.9 7.5 0 1 0 15.8 0a7.9 7.5 0 1 0 -15.8 0zM691 344.3a7.9 7.5 0 1 0 15.8 0a7.9 7.5 0 1 0 -15.8 0zM692.8 342.4a7.9 7.5 0 1 0 15.8 0a7.9 7.5 0 1 0 -15.8 0zM694.7 340.6a7.9 7.5 0 1 0 15.8 0a7.9 7.5 0 1 0 -15.8 0zM696.6 338.7a7.9 7.5 0 1 0 15.8 0a7.9 7.5 0 1 0 -15.8 0zM698.5 336.8a7.9 7.5 0 1 0 15.8 0a7.9 7.5 0 1 0 -15.8 0zM700.4 334.8a7.9 7.5 0 1 0 15.8 0a7.9 7.5 0 1 0 -15.8 0zM702.2 332.7a7.9 7.5 0 1 0 15.8 0a7.9 7.5 0 1 0 -15.8 0zM704.1 330.5a7.9 7.5 0 1 0 15.8 0a7.9 7.5 0 1 0 -15.8 0zM706 328.2a7.9 7.5 0 1 0 15.8 0a7.9 7.5 0 1 0 -15.8 0zM707.9 325.9a7.9 7.5 0 1 0 15.8 0a7.9 7.5 0 1 0 -15.8 0zM709.8 323.6a7.9 7.5 0 1 0 15.8 0a7.9 7.5 0 1 0 -15.8 0zM711.6 321.4a7.9 7.5 0 1 0 15.8 0a7.9 7.5 0 1 0 -15.8 0zM713.5 319.2a7.9 7.5 0 1 0 15.8 0a7.9 7.5 0 1 0 -15.8 0zM715.4 317a7.9 7.5 0 1 0 15.8 0a7.9 7.5 0 1 0 -15.8 0zM717.3 314.9a7.9 7.5 0 1 0 15.8 0a7.9 7.5 0 1 0 -15.8 0zM719.2 312.7a7.9 7.5 0 1 0 15.8 0a7.9 7.5 0 1 0 -15.8 0zM721 310.6a7.9 7.5 0 1 0 15.8 0a7.9 7.5 0 1 0 -15.8 0zM722.9 308.5a7.9 7.5 0 1 0 15.8 0a7.9 7.5 0 1 0 -15.8 0zM724.8 306.5a7.9 7.5 0 1 0 15.8 0a7.9 7.5 0 1 0 -15.8 0zM726.7 304.4a7.9 7.5 0 1 0 15.8 0a7.9 7.5 0 1 0 -15.8 0zM728.6 302.4a7.9 7.5 0 1 0 15.8 0a7.9 7.5 0 1 0 -15.8 0zM730.4 300.5a7.9 7.5 0 1 0 15.8 0a7.9 7.5 0 1 0 -15.8 0zM732.3 298.5a7.9 7.5 0 1 0 15.8 0a7.9 7.5 0 1 0 -15.8 0zM734.2 296.7a7.9 7.5 0 1 0 15.8 0a7.9 7.5 0 1 0 -15.8 0zM736.1 294.8a7.9 7.5 0 1 0 15.8 0a7.9 7.5 0 1 0 -15.8 0zM738 293a7.9 7.5 0 1 0 15.8 0a7.9 7.5 0 1 0 -15.8 0zM739.8 291.4a7.9 7.5 0 1 0 15.8 0a7.9 7.5 0 1 0 -15.8 0zM741.7 289.7a7.9 7.5 0 1 0 15.8 0a7.9 7.5 0 1 0 -15.8 0zM743.6 288.1a7.9 7.5 0 1 0 15.8 0a7.9 7.5 0 1 0 -15.8 0zM745.5 286.6a7.9 7.5 0 1 0 15.8 0a7.9 7.5 0 1 0 -15.8 0zM747.4 285.1a7.9 7.5 0 1 0 15.8 0a7.9 7.5 0 1 0 -15.8 0zM749.2 283.8a7.9 7.5 0 1 0 15.8 0a7.9 7.5 0 1 0 -15.8 0zM751.1 282.6a7.9 7.5 0 1 0 15.8 0a7.9 7.5 0 1 0 -15.8 0zM753 281.4a7.9 7.5 0 1 0 15.8 0a7.9 7.5 0 1 0 -15.8 0zM754.9 280.2a7.9 7.5 0 1 0 15.8 0a7.9 7.5 0 1 0 -15.8 0zM756.8 279.2a7.9 7.5 0 1 0 15.8 0a7.9 7.5 0 1 0 -15.8 0zM758.6 278.3a7.9 7.5 0 1 0 15.8 0a7.9 7.5 0 1 0 -15.8 0zM760.5 277.4a7.9 7.5 0 1 0 15.8 0a7.9 7.5 0 1 0 -15.8 0zM762.4 276.7a7.9 7.5 0 1 0 15.8 0a7.9 7.5 0 1 0 -15.8 0zM764.3 276a7.9 7.5 0 1 0 15.8 0a7.9 7.5 0 1 0 -15.8 0zM766.2 275.3a7.9 7.5 0 1 0 15.8 0a7.9 7.5 0 1 0 -15.8 0zM768 274.8a7.9 7.5 0 1 0 15.8 0a7.9 7.5 0 1 0 -15.8 0zM769.9 274.4a7.9 7.5 0 1 0 15.8 0a7.9 7.5 0 1 0 -15.8 0zM771.8 274a7.9 7.5 0 1 0 15.8 0a7.9 7.5 0 1 0 -15.8 0zM773.7 273.7a7.9 7.5 0 1 0 15.8 0a7.9 7.5 0 1 0 -15.8 0zM775.6 273.5a7.9 7.5 0 1 0 15.8 0a7.9 7.5 0 1 0 -15.8 0zM777.4 273.4a7.9 7.5 0 1 0 15.8 0a7.9 7.5 0 1 0 -15.8 0zM779.3 273.3a7.9 7.5 0 1 0 15.8 0a7.9 7.5 0 1 0 -15.8 0zM781.2 273.3a7.9 7.5 0 1 0 15.8 0a7.9 7.5 0 1 0 -15.8 0zM783.1 273.3a7.9 7.5 0 1 0 15.8 0a7.9 7.5 0 1 0 -15.8 0zM785 273.4a7.9 7.5 0 1 0 15.8 0a7.9 7.5 0 1 0 -15.8 0zM786.8 273.5a7.9 7.5 0 1 0 15.8 0a7.9 7.5 0 1 0 -15.8 0zM788.7 273.6a7.9 7.5 0 1 0 15.8 0a7.9 7.5 0 1 0 -15.8 0zM790.6 273.8a7.9 7.5 0 1 0 15.8 0a7.9 7.5 0 1 0 -15.8 0zM792.5 274.1a7.9 7.5 0 1 0 15.8 0a7.9 7.5 0 1 0 -15.8 0zM794.4 274.4a7.9 7.5 0 1 0 15.8 0a7.9 7.5 0 1 0 -15.8 0zM796.2 274.7a7.9 7.5 0 1 0 15.8 0a7.9 7.5 0 1 0 -15.8 0zM798.1 275a7.9 7.5 0 1 0 15.8 0a7.9 7.5 0 1 0 -15.8 0zM800 275.3a7.9 7.5 0 1 0 15.8 0a7.9 7.5 0 1 0 -15.8 0zM801.9 275.6a7.9 7.5 0 1 0 15.8 0a7.9 7.5 0 1 0 -15.8 0zM803.8 276a7.9 7.5 0 1 0 15.8 0a7.9 7.5 0 1 0 -15.8 0zM805.6 276.3a7.9 7.5 0 1 0 15.8 0a7.9 7.5 0 1 0 -15.8 0zM807.5 276.7a7.9 7.5 0 1 0 15.8 0a7.9 7.5 0 1 0 -15.8 0zM809.4 277.1a7.9 7.5 0 1 0 15.8 0a7.9 7.5 0 1 0 -15.8 0zM811.3 277.5a7.9 7.5 0 1 0 15.8 0a7.9 7.5 0 1 0 -15.8 0zM813.2 277.9a7.9 7.5 0 1 0 15.8 0a7.9 7.5 0 1 0 -15.8 0zM815 278.3a7.9 7.5 0 1 0 15.8 0a7.9 7.5 0 1 0 -15.8 0zM816.9 278.8a7.9 7.5 0 1 0 15.8 0a7.9 7.5 0 1 0 -15.8 0zM818.8 279.2a7.9 7.5 0 1 0 15.8 0a7.9 7.5 0 1 0 -15.8 0zM820.7 279.7a7.9 7.5 0 1 0 15.8 0a7.9 7.5 0 1 0 -15.8 0zM822.6 280.3a7.9 7.5 0 1 0 15.8 0a7.9 7.5 0 1 0 -15.8 0zM824.4 280.8a7.9 7.5 0 1 0 15.8 0a7.9 7.5 0 1 0 -15.8 0zM826.3 281.4a7.9 7.5 0 1 0 15.8 0a7.9 7.5 0 1 0 -15.8 0zM828.2 282a7.9 7.5 0 1 0 15.8 0a7.9 7.5 0 1 0 -15.8 0zM830.1 282.6a7.9 7.5 0 1 0 15.8 0a7.9 7.5 0 1 0 -15.8 0zM832 283.2a7.9 7.5 0 1 0 15.8 0a7.9 7.5 0 1 0 -15.8 0zM833.8 283.8a7.9 7.5 0 1 0 15.8 0a7.9 7.5 0 1 0 -15.8 0zM835.7 284.4a7.9 7.5 0 1 0 15.8 0a7.9 7.5 0 1 0 -15.8 0zM837.6 285a7.9 7.5 0 1 0 15.8 0a7.9 7.5 0 1 0 -15.8 0zM839.5 285.6a7.9 7.5 0 1 0 15.8 0a7.9 7.5 0 1 0 -15.8 0zM841.4 286.1a7.9 7.5 0 1 0 15.8 0a7.9 7.5 0 1 0 -15.8 0zM843.2 286.7a7.9 7.5 0 1 0 15.8 0a7.9 7.5 0 1 0 -15.8 0zM845.1 287.3a7.9 7.5 0 1 0 15.8 0a7.9 7.5 0 1 0 -15.8 0zM847 287.8a7.9 7.5 0 1 0 15.8 0a7.9 7.5 0 1 0 -15.8 0zM848.9 288.4a7.9 7.5 0 1 0 15.8 0a7.9 7.5 0 1 0 -15.8 0zM850.8 289a7.9 7.5 0 1 0 15.8 0a7.9 7.5 0 1 0 -15.8 0zM852.6 289.5a7.9 7.5 0 1 0 15.8 0a7.9 7.5 0 1 0 -15.8 0zM854.5 290.1a7.9 7.5 0 1 0 15.8 0a7.9 7.5 0 1 0 -15.8 0zM856.4 290.7a7.9 7.5 0 1 0 15.8 0a7.9 7.5 0 1 0 -15.8 0zM858.3 291.2a7.9 7.5 0 1 0 15.8 0a7.9 7.5 0 1 0 -15.8 0zM860.2 291.8a7.9 7.5 0 1 0 15.8 0a7.9 7.5 0 1 0 -15.8 0zM862 292.4a7.9 7.5 0 1 0 15.8 0a7.9 7.5 0 1 0 -15.8 0zM863.9 292.9a7.9 7.5 0 1 0 15.8 0a7.9 7.5 0 1 0 -15.8 0zM865.8 293.5a7.9 7.5 0 1 0 15.8 0a7.9 7.5 0 1 0 -15.8 0zM867.7 294a7.9 7.5 0 1 0 15.8 0a7.9 7.5 0 1 0 -15.8 0zM869.6 294.6a7.9 7.5 0 1 0 15.8 0a7.9 7.5 0 1 0 -15.8 0zM871.4 295.1a7.9 7.5 0 1 0 15.8 0a7.9 7.5 0 1 0 -15.8 0zM873.3 295.7a7.9 7.5 0 1 0 15.8 0a7.9 7.5 0 1 0 -15.8 0zM875.2 296.3a7.9 7.5 0 1 0 15.8 0a7.9 7.5 0 1 0 -15.8 0zM877.1 296.8a7.9 7.5 0 1 0 15.8 0a7.9 7.5 0 1 0 -15.8 0zM879 297.4a7.9 7.5 0 1 0 15.8 0a7.9 7.5 0 1 0 -15.8 0zM880.8 297.9a7.9 7.5 0 1 0 15.8 0a7.9 7.5 0 1 0 -15.8 0zM882.7 298.5a7.9 7.5 0 1 0 15.8 0a7.9 7.5 0 1 0 -15.8 0zM884.6 299.1a7.9 7.5 0 1 0 15.8 0a7.9 7.5 0 1 0 -15.8 0zM886.5 299.6a7.9 7.5 0 1 0 15.8 0a7.9 7.5 0 1 0 -15.8 0zM888.4 300.2a7.9 7.5 0 1 0 15.8 0a7.9 7.5 0 1 0 -15.8 0zM890.2 300.8a7.9 7.5 0 1 0 15.8 0a7.9 7.5 0 1 0 -15.8 0zM892.1 301.3a7.9 7.5 0 1 0 15.8 0a7.9 7.5 0 1 0 -15.8 0zM894 301.9a7.9 7.5 0 1 0 15.8 0a7.9 7.5 0 1 0 -15.8 0zM895.9 302.5a7.9 7.5 0 1 0 15.8 0a7.9 7.5 0 1 0 -15.8 0zM897.8 303a7.9 7.5 0 1 0 15.8 0a7.9 7.5 0 1 0 -15.8 0zM899.6 303.6a7.9 7.5 0 1 0 15.8 0a7.9 7.5 0 1 0 -15.8 0zM901.5 304.2a7.9 7.5 0 1 0 15.8 0a7.9 7.5 0 1 0 -15.8 0zM903.4 304.7a7.9 7.5 0 1 0 15.8 0a7.9 7.5 0 1 0 -15.8 0zM905.3 305.3a7.9 7.5 0 1 0 15.8 0a7.9 7.5 0 1 0 -15.8 0zM907.2 305.8a7.9 7.5 0 1 0 15.8 0a7.9 7.5 0 1 0 -15.8 0zM909 306.4a7.9 7.5 0 1 0 15.8 0a7.9 7.5 0 1 0 -15.8 0zM910.9 307a7.9 7.5 0 1 0 15.8 0a7.9 7.5 0 1 0 -15.8 0zM912.8 307.5a7.9 7.5 0 1 0 15.8 0a7.9 7.5 0 1 0 -15.8 0z"/>
<path fill="#00ff00" d="M159.3 330.5l9.2 15h-18.5zM161.2 315.1l9.2 15h-18.5zM163.1 305.5l9.2 15h-18.5zM164.9 304.5l9.2 15h-18.5zM166.8 315.1l9.2 15h-18.5zM168.7 331.7l9.2 15h-18.5zM170.6 351.3l9.2 15h-18.5zM172.5 371.6l9.2 15h-18.5zM174.3 389.5l9.2 15h-18.5zM176.2 400.1l9.2 15h-18.5zM178.1 407.7l9.2 15h-18.5zM180 413.1l9.2 15h-18.5zM181.9 417.7l9.2 15h-18.5zM183.7 421.2l9.2 15h-18.5zM185.6 424.3l9.2 15h-18.5zM187.5 427.2l9.2 15h-18.5zM189.4 429.2l9.2 15h-18.5zM191.3 430.9l9.2 15h-18.5zM193.1 432.7l9.2 15h-18.5zM195 435l9.2 15h-18.5zM196.9 438.2l9.2 15h-18.5zM198.8 442.1l9.2 15h-18.5zM200.7 447.3l9.2 15h-18.5zM202.5 451.8l9.2 15h-18.5zM204.4 456l9.2 15h-18.5zM206.3 459.4l9.2 15h-18.5zM208.2 462.8l9.2 15h-18.5zM210.1 465.4l9.2 15h-18.5zM211.9 467.6l9.2 15h-18.5zM213.8 469.5l9.2 15h-18.5zM215.7 470.9l9.2 15h-18.5zM217.6 472.1l9.2 15h-18.5zM219.5 473.2l9.2 15h-18.5zM221.3 474.3l9.2 15h-18.5zM223.2 475.3l9.2 15h-18.5zM225.1 476.3l9.2 15h-18.5zM227 477.3l9.2 15h-18.5zM228.9 478.2l9.2 15h-18.5zM230.7 478.7l9.2 15h-18.5zM232.6 479.8l9.2 15h-18.5zM234.5 480.3l9.2 15h-18.5zM236.4 480.7l9.2 15h-18.5zM238.3 481.4l9.2 15h-18.5zM240.1 481.7l9.2 15h-18.5zM242 482l9.2 15h-18.5zM243.9 483.1l9.2 15h-18.5zM245.8 483.6l9.2 15h-18.5zM247.7 484.5l9.2 15h-18.5zM249.5 485.8l9.2 15h-18.5zM251.4 486l9.2 15h-18.5zM253.3 487.4l9.2 15h-18.5zM255.2 488.4l9.2 15h-18.5zM257.1 489l9.2 15h-18.5zM258.9 490.1l9.2 15h-18.5zM260.8 491.6l9.2 15h-18.5zM262.7 491.9l9.2 15h-18.5zM264.6 493.2l9.2 15h-18.5zM266.5 494.1l9.2 15h-18.5zM268.3 494.4l9.2 15h-18.5zM270.2 495.8l9.2 15h-18.5zM272.1 496l9.2 15h-18.5zM274 496.5l9.2 15h-18.5zM275.9 497.3l9.2 15h-18.5zM277.7 497.6l9.2 15h-18.5zM279.6 498.4l9.2 15h-18.5zM281.5 498.5l9.2 15h-18.5zM283.4 499.6l9.2 15h-18.5zM285.3 499.7l9.2 15h-18.5zM287.1 499.9l9.2 15h-18.5zM289 500.6l9.2 15h-18.5zM290.9 501.6l9.2 15h-18.5zM292.8 502l9.2 15h-18.5zM294.7 502.2l9.2 15h-18.5zM296.5 502.6l9.2 15h-18.5zM298.4 503.2l9.2 15h-18.5zM300.3 504.2l9.2 15h-18.5zM302.2 503.7l9.2 15h-18.5zM304.1 504.7l9.2 15h-18.5zM305.9 504.9l9.2 15h-18.5zM307.8 504.5l9.2 15h-18.5zM309.7 504.8l9.2 15h-18.5zM311.6 505.2l9.2 15h-18.5zM313.5 505.6l9.2 15h-18.5zM315.3 505.9l9.2 15h-18.5zM317.2 506.2l9.2 15h-18.5zM319.1 505.7l9.2 15h-18.5zM321 505.8l9.2 15h-18.5zM322.9 506.4l9.2 15h-18.5zM324.7 506.8l9.2 15h-18.5zM326.6 507.2l9.2 15h-18.5zM328.5 506.8l9.2 15h-18.5zM330.4 507.5l9.2 15h-18.5zM332.3 504.2l9.2 15h-18.5zM334.1 498.4l9.2 15h-18.5zM336 491.6l9.2 15h-18.5zM337.9 480.6l9.2 15h-18.5zM339.8 472.8l9.2 15h-18.5zM341.7 464.8l9.2 15h-18.5zM343.5 459.1l9.2 15h-18.5zM345.4 454.5l9.2 15h-18.5zM347.3 452.6l9.2 15h-18.5zM349.2 451.5l9.2 15h-18.5zM351.1 451.5l9.2 15h-18.5zM352.9 451.3l9.2 15h-18.5zM354.8 451.5l9.2 15h-18.5zM356.7 452.1l9.2 15h-18.5zM358.6 453.2l9.2 15h-18.5zM360.5 454l9.2 15h-18.5zM362.3 454.2l9.2 15h-18.5zM364.2 455.3l9.2 15h-18.5zM366.1 456.4l9.2 15h-18.5zM368 457.4l9.2 15h-18.5zM369.9 458.8l9.2 15h-18.5zM371.7 459.4l9.2 15h-18.5zM373.6 460.8l9.2 15h-18.5zM375.5 462l9.2 15h-18.5zM377.4 462.8l9.2 15h-18.5zM379.3 462.9l9.2 15h-18.5zM381.1 463.8l9.2 15h-18.5zM383 464.7l9.2 15h-18.5zM384.9 465.8l9.2 15h-18.5zM386.8 466.3l9.2 15h-18.5zM388.7 466.9l9.2 15h-18.5zM390.5 467.7l9.2 15h-18.5zM392.4 468.3l9.2 15h-18.5zM394.3 469.6l9.2 15h-18.5zM396.2 470.1l9.2 15h-18.5zM398.1 470.4l9.2 15h-18.5zM399.9 471.2l9.2 15h-18.5zM401.8 471.5l9.2 15h-18.5zM403.7 471.9l9.2 15h-18.5zM405.6 472.1l9.2 15h-18.5zM407.5 472.5l9.2 15h-18.5zM409.3 473.3l9.2 15h-18.5zM411.2 473.3l9.2 15h-18.5zM413.1 473.6l9.2 15h-18.5zM415 473.1l9.2 15h-18.5zM416.9 473.7l9.2 15h-18.5zM418.7 473.7l9.2 15h-18.5zM420.6 473.6l9.2 15h-18.5zM422.5 474.1l9.2 15h-18.5zM424.4 473.9l9.2 15h-18.5zM426.3 474.2l9.2 15h-18.5zM428.1 474.9l9.2 15h-18.5zM430 474.9l9.2 15h-18.5zM431.9 475l9.2 15h-18.5zM433.8 474.5l9.2 15h-18.5zM435.7 474.7l9.2 15h-18.5zM437.5 474.7l9.2 15h-18.5zM439.4 474.8l9.2 15h-18.5zM441.3 474.9l9.2 15h-18.5zM443.2 475.8l9.2 15h-18.5zM445.1 475.7l9.2 15h-18.5zM446.9 475l9.2 15h-18.5zM448.8 474.9l9.2 15h-18.5zM450.7 475.6l9.2 15h-18.5zM452.6 475.1l9.2 15h-18.5zM454.5 474.8l9.2 15h-18.5zM456.3 474.7l9.2 15h-18.5zM458.2 474.4l9.2 15h-18.5zM460.1 474.6l9.2 15h-18.5zM462 474.6l9.2 15h-18.5zM463.9 474.2l9.2 15h-18.5zM465.7 474.3l9.2 15h-18.5zM467.6 473.3l9.2 15h-18.5zM469.5 473.6l9.2 15h-18.5zM471.4 473.7l9.2 15h-18.5zM473.3 472.6l9.2 15h-18.5zM475.1 472.6l9.2 15h-18.5zM477 472.5l9.2 15h-18.5zM478.9 471.9l9.2 15h-18.5zM480.8 472.2l9.2 15h-18.5zM482.7 471.5l9.2 15h-18.5zM484.5 471.1l9.2 15h-18.5zM486.4 471.3l9.2 15h-18.5zM488.3 470.1l9.2 15h-18.5zM490.2 470.6l9.2 15h-18.5zM492.1 469.5l9.2 15h-18.5zM493.9 469.5l9.2 15h-18.5zM495.8 469.2l9.2 15h-18.5zM497.7 468.9l9.2 15h-18.5zM499.6 468.1l9.2 15h-18.5zM501.5 468l9.2 15h-18.5zM503.3 467.6l9.2 15h-18.5zM505.2 467.9l9.2 15h-18.5zM507.1 467.4l9.2 15h-18.5zM509 466.7l9.2 15h-18.5zM510.9 466.6l9.2 15h-18.5zM512.7 466.1l9.2 15h-18.5zM514.6 465.1l9.2 15h-18.5zM516.5 464.4l9.2 15h-18.5zM518.4 464.4l9.2 15h-18.5zM520.3 463.7l9.2 15h-18.5zM522.1 462.8l9.2 15h-18.5zM524 463.2l9.2 15h-18.5zM525.9 462.6l9.2 15h-18.5zM527.8 461.5l9.2 15h-18.5zM529.7 461l9.2 15h-18.5zM531.5 460.3l9.2 15h-18.5zM533.4 459.9l9.2 15h-18.5zM535.3 458.7l9.2 15h-18.5zM537.2 458l9.2 15h-18.5zM539.1 456.9l9.2 15h-18.5zM540.9 456.1l9.2 15h-18.5zM542.8 455.6l9.2 15h-18.5zM544.7 454.5l9.2 15h-18.5zM546.6 453.5l9.2 15h-18.5zM548.5 453l9.2 15h-18.5zM550.3 452.6l9.2 15h-18.5zM552.2 451.3l9.2 15h-18.5zM554.1 451l9.2 15h-18.5zM556 450l9.2 15h-18.5zM557.9 449.1l9.2 15h-18.5zM559.7 448.5l9.2 15h-18.5zM561.6 446.7l9.2 15h-18.5zM563.5 445.9l9.2 15h-18.5zM565.4 445.7l9.2 15h-18.5zM567.3 444.7l9.2 15h-18.5zM569.1 442.9l9.2 15h-18.5zM571 442.6l9.2 15h-18.5zM572.9 440.8l9.2 15h-18.5zM574.8 439.9l9.2 15h-18.5zM576.7 438.8l9.2 15h-18.5zM578.5 437.9l9.2 15h-18.5zM580.4 436.9l9.2 15h-18.5zM582.3 436.3l9.2 15h-18.5zM584.2 434.6l9.2 15h-18.5zM586.1 433l9.2 15h-18.5zM587.9 431.7l9.2 15h-18.5zM589.8 430l9.2 15h-18.5zM591.7 428.6l9.2 15h-18.5zM593.6 427.3l9.2 15h-18.5zM595.5 425.7l9.2 15h-18.5zM597.3 423.7l9.2 15h-18.5zM599.2 422l9.2 15h-18.5zM601.1 419.9l9.2 15h-18.5zM603 418.5l9.2 15h-18.5zM604.9 416.3l9.2 15h-18.5zM606.7 414.1l9.2 15h-18.5zM608.6 412.5l9.2 15h-18.5zM610.5 410.3l9.2 15h-18.5zM612.4 408.4l9.2 15h-18.5zM614.3 406.3l9.2 15h-18.5zM616.1 405.1l9.2 15h-18.5zM618 402.8l9.2 15h-18.5zM619.9 401.7l9.2 15h-18.5zM621.8 399.5l9.2 15h-18.5zM623.7 397.7l9.2 15h-18.5zM625.5 396.7l9.2 15h-18.5zM627.4 395l9.2 15h-18.5zM629.3 393.2l9.2 15h-18.5zM631.2 390.4l9.2 15h-18.5zM633.1 388.9l9.2 15h-18.5zM634.9 386.7l9.2 15h-18.5zM636.8 383.8l9.2 15h-18.5zM638.7 381.5l9.2 15h-18.5zM640.6 379.2l9.2 15h-18.5zM642.5 376.4l9.2 15h-18.5zM644.3 374.5l9.2 15h-18.5zM646.2 371.8l9.2 15h-18.5zM648.1 369.3l9.2 15h-18.5zM650 366.3l9.2 15h-18.5zM651.9 363.6l9.2 15h-18.5zM653.7 360.4l9.2 15h-18.5zM655.6 357.7l9.2 15h-18.5zM657.5 355.2l9.2 15h-18.5zM659.4 352.5l9.2 15h-18.5zM661.3 348.7l9.2 15h-18.5zM663.1 345.6l9.2 15h-18.5zM665 342.5l9.2 15h-18.5zM666.9 339.7l9.2 15h-18.5zM668.8 336.7l9.2 15h-18.5zM670.7 332.7l9.2 15h-18.5zM672.5 329.4l9.2 15h-18.5zM674.4 325.9l9.2 15h-18.5zM676.3 322.8l9.2 15h-18.5zM678.2 319l9.2 15h-18.5zM680.1 315.9l9.2 15h-18.5zM681.9 313.4l9.2 15h-18.5zM683.8 310.3l9.2 15h-18.5zM685.7 307.2l9.2 15h-18.5zM687.6 304.6l9.2 15h-18.5zM689.5 301.1l9.2 15h-18.5zM691.3 296.7l9.2 15h-18.5zM693.2 293l9.2 15h-18.5zM695.1 288.9l9.2 15h-18.5zM697 284.4l9.2 15h-18.5zM698.9 278.7l9.2 15h-18.5zM700.7 274.4l9.2 15h-18.5zM702.6 268.3l9.2 15h-18.5zM704.5 263.7l9.2 15h-18.5zM706.4 258.7l9.2 15h-18.5zM708.3 253.8l9.2 15h-18.5zM710.1 247.7l9.2 15h-18.5zM712 241.5l9.2 15h-18.5zM713.9 236.6l9.2 15h-18.5zM715.8 230.2l9.2 15h-18.5zM717.7 224l9.2 15h-18.5zM719.5 216.7l9.2 15h-18.5zM721.4 211l9.2 15h-18.5zM723.3 205.3l9.2 15h-18.5zM725.2 198.8l9.2 15h-18.5zM727.1 193.1l9.2 15h-18.5zM728.9 186.9l9.2 15h-18.5zM730.8 180.5l9.2 15h-18.5zM732.7 174l9.2 15h-18.5zM734.6 167.1l9.2 15h-18.5zM736.5 160.7l9.2 15h-18.5zM738.3 154.5l9.2 15h-18.5zM740.2 147.5l9.2 15h-18.5zM742.1 140.7l9.2 15h-18.5zM744 136l9.2 15h-18.5zM745.9 130l9.2 15h-18.5zM747.7 124.4l9.2 15h-18.5zM749.6 119.4l9.2 15h-18.5zM751.5 112.7l9.2 15h-18.5zM753.4 106.1l9.2 15h-18.5zM755.3 101l9.2 15h-18.5zM757.1 96.3l9.2 15h-18.5zM759 90.9l9.2 15h-18.5zM760.9 85.8l9.2 15h-18.5zM762.8 81.8l9.2 15h-18.5zM764.7 78.1l9.2 15h-18.5zM766.5 72.9l9.2 15h-18.5zM768.4 70l9.2 15h-18.5zM770.3 66.2l9.2 15h-18.5zM772.2 62.6l9.2 15h-18.5zM774.1 60.2l9.2 15h-18.5zM775.9 56.5l9.2 15h-18.5zM777.8 53.8l9.2 15h-18.5zM779.7 51.2l9.2 15h-18.5zM781.6 48.6l9.2 15h-18.5zM783.5 47.3l9.2 15h-18.5zM785.3 45.7l9.2 15h-18.5zM787.2 44l9.2 15h-18.5zM789.1 42.9l9.2 15h-18.5zM791 41.8l9.2 15h-18.5zM792.9 41.4l9.2 15h-18.5zM794.7 40.3l9.2 15h-18.5zM796.6 40l9.2 15h-18.5zM798.5 39.7l9.2 15h-18.5zM800.4 39.4l9.2 15h-18.5zM802.3 38.4l9.2 15h-18.5zM804.1 38.7l9.2 15h-18.5zM806 38.9l9.2 15h-18.5zM807.9 39.1l9.2 15h-18.5zM809.8 39.3l9.2 15h-18.5zM811.7 39.6l9.2 15h-18.5zM813.5 40.2l9.2 15h-18.5zM815.4 40.1l9.2 15h-18.5zM817.3 40.6l9.2 15h-18.5zM819.2 41.2l9.2 15h-18.5zM821.1 41.5l9.2 15h-18.5zM822.9 42.7l9.2 15h-18.5zM824.8 43.1l9.2 15h-18.5zM826.7 44.4l9.2 15h-18.5zM828.6 45.1l9.2 15h-18.5zM830.5 45.3l9.2 15h-18.5zM832.3 46.1l9.2 15h-18.5zM834.2 47.6l9.2 15h-18.5zM836.1 48.4l9.2 15h-18.5zM838 48.9l9.2 15h-18.5zM839.9 50.6l9.2 15h-18.5zM841.7 51.5l9.2 15h-18.5zM843.6 53l9.2 15h-18.5zM845.5 54.1l9.2 15h-18.5zM847.4 55.5l9.2 15h-18.5zM849.3 56.4l9.2 15h-18.5zM851.1 57.8l9.2 15h-18.5zM853 58.3l9.2 15h-18.5zM854.9 59.5l9.2 15h-18.5zM856.8 60.3l9.2 15h-18.5zM858.7 62.3l9.2 15h-18.5zM860.5 62.7l9.2 15h-18.5zM862.4 64.2l9.2 15h-18.5zM864.3 65.3l9.2 15h-18.5zM866.2 66.8l9.2 15h-18.5zM868.1 67.5l9.2 15h-18.5zM869.9 68.5l9.2 15h-18.5zM871.8 69.9l9.2 15h-18.5zM873.7 70.7l9.2 15h-18.5zM875.6 72.1l9.2 15h-18.5zM877.5 73.6l9.2 15h-18.5zM879.3 74.3l9.2 15h-18.5zM881.2 76.4l9.2 15h-18.5zM883.1 77.1l9.2 15h-18.5zM885 78l9.2 15h-18.5zM886.9 79.7l9.2 15h-18.5zM888.7 80.2l9.2 15h-18.5zM890.6 81.5l9.2 15h-18.5zM892.5 83.3l9.2 15h-18.5zM894.4 83.8l9.2 15h-18.5zM896.3 85.4l9.2 15h-18.5zM898.1 85.9l9.2 15h-18.5zM900 87.5l9.2 15h-18.5zM901.9 88.7l9.2 15h-18.5zM903.8 89.4l9.2 15h-18.5zM905.7 90.6l9.2 15h-18.5zM907.5 92l9.2 15h-18.5zM909.4 93.1l9.2 15h-18.5zM911.3 93.8l9.2 15h-18.5zM913.2 95.2l9.2 15h-18.5zM915.1 96.9l9.2 15h-18.5zM916.9 97.3l9.2 15h-18.5zM918.8 98.9l9.2 15h-18.5zM920.7 99.4l9.2 15h-18.5z"/>
<rect x="306.8" y="29.7" width="14" height="12.3" fill="#000"/>
<ellipse cx="454.7" cy="36" rx="7.95" ry="7.25" fill="#ff0000"/>
<path d="M590.5 25.9L600.1 41H581z" fill="#00ff00"/>
<rect x="254.7" y="67.6" width="377.8" height="267.8" fill="#fff" stroke="#000" stroke-width="2.4"/>
<path d="M286 335.4V332.4 M286 67.6V70.3M317.3 335.4V330.1 M317.3 67.6V72.7M348.6 335.4V332.4 M348.6 67.6V70.3M379.9 335.4V330.1 M379.9 67.6V72.7M411.2 335.4V332.4 M411.2 67.6V70.3M442.5 335.4V330.1 M442.5 67.6V72.7M473.8 335.4V332.4 M473.8 67.6V70.3M505.1 335.4V330.1 M505.1 67.6V72.7M536.4 335.4V332.4 M536.4 67.6V70.3M567.7 335.4V330.1 M567.7 67.6V72.7M599 335.4V332.4 M599 67.6V70.3M254.7 94.3H260.7M254.7 121H257.9M254.7 147.8H260.7M254.7 174.6H257.9M254.7 201.3H260.7M254.7 228.1H257.9M254.7 254.8H260.7M254.7 281.6H257.9M254.7 308.3H260.7M254.7 335.1H257.9" stroke="#000" stroke-width="1.9" fill="none"/>
<path d="M317.4 277.7L442.8 216L568.5 126.3" stroke="#ff0000" stroke-width="2" fill="none"/>
<rect x="313.8" y="274.5" width="7.2" height="6.4" fill="#000"/>
<rect x="439.2" y="212.8" width="7.2" height="6.4" fill="#000"/>
<rect x="564.9" y="123.1" width="7.2" height="6.4" fill="#000"/>
<g stroke="#000" stroke-width="4.2" fill="none">
<rect x="155.3" y="750.9" width="762" height="543.4"/>
<path d="M173.4 1294.3V1284 M173.4 750.9V761.8M264.1 1294.3V1284 M264.1 750.9V761.8M354.8 1294.3V1284 M354.8 750.9V761.8M445.5 1294.3V1284 M445.5 750.9V761.8M536.2 1294.3V1284 M536.2 750.9V761.8M626.9 1294.3V1284 M626.9 750.9V761.8M717.6 1294.3V1284 M717.6 750.9V761.8M808.3 1294.3V1284 M808.3 750.9V761.8M899 1294.3V1284 M899 750.9V761.8M218.8 1294.3V1289.2 M218.8 750.9V756M309.4 1294.3V1289.2 M309.4 750.9V756M400.1 1294.3V1289.2 M400.1 750.9V756M490.9 1294.3V1289.2 M490.9 750.9V756M581.5 1294.3V1289.2 M581.5 750.9V756M672.2 1294.3V1289.2 M672.2 750.9V756M763 1294.3V1289.2 M763 750.9V756M853.6 1294.3V1289.2 M853.6 750.9V756M155.3 859.7H167.4M155.3 1004.4H167.4M155.3 1149.1H167.4M155.3 787.4H161.3M155.3 932.1H161.3M155.3 1076.8H161.3M155.3 1221.5H161.3"/>
</g>
<path fill="#000" d="M157.6 1143.8h13.5v11.8h-13.5zM159.4 1109.4h13.5v11.8h-13.5zM161.2 1090.9h13.5v11.8h-13.5zM163 1081.9h13.5v11.8h-13.5zM164.8 1071.3h13.5v11.8h-13.5zM166.6 1061.7h13.5v11.8h-13.5zM168.4 1053.2h13.5v11.8h-13.5zM170.2 1047.1h13.5v11.8h-13.5zM172.1 1042.6h13.5v11.8h-13.5zM173.9 1040.1h13.5v11.8h-13.5zM175.7 1039.7h13.5v11.8h-13.5zM177.5 1043.9h13.5v11.8h-13.5zM179.3 1064.7h13.5v11.8h-13.5zM181.1 1092.1h13.5v11.8h-13.5zM182.9 1127h13.5v11.8h-13.5zM184.8 1161.3h13.5v11.8h-13.5zM186.6 1190.2h13.5v11.8h-13.5zM188.4 1213.1h13.5v11.8h-13.5zM190.2 1229.4h13.5v11.8h-13.5zM192 1241.4h13.5v11.8h-13.5zM193.8 1249.4h13.5v11.8h-13.5zM195.6 1255.6h13.5v11.8h-13.5zM197.5 1260.1h13.5v11.8h-13.5zM199.3 1262.6h13.5v11.8h-13.5zM201.1 1264.1h13.5v11.8h-13.5zM202.9 1265.1h13.5v11.8h-13.5zM204.7 1265.3h13.5v11.8h-13.5zM206.5 1265.5h13.5v11.8h-13.5zM208.3 1265.7h13.5v11.8h-13.5zM210.2 1266.1h13.5v11.8h-13.5zM212 1265.3h13.5v11.8h-13.5zM213.8 1265.9h13.5v11.8h-13.5zM215.6 1266.8h13.5v11.8h-13.5zM217.4 1266.9h13.5v11.8h-13.5zM219.2 1265.5h13.5v11.8h-13.5zM221 1265.9h13.5v11.8h-13.5zM222.9 1265.7h13.5v11.8h-13.5zM224.7 1266.6h13.5v11.8h-13.5zM226.5 1266h13.5v11.8h-13.5zM228.3 1267h13.5v11.8h-13.5zM230.1 1267.5h13.5v11.8h-13.5zM231.9 1266.9h13.5v11.8h-13.5zM233.7 1267.8h13.5v11.8h-13.5zM235.6 1267.8h13.5v11.8h-13.5zM237.4 1266.8h13.5v11.8h-13.5zM239.2 1268h13.5v11.8h-13.5zM241 1267.5h13.5v11.8h-13.5zM242.8 1267.9h13.5v11.8h-13.5zM244.6 1267.8h13.5v11.8h-13.5zM246.4 1268.7h13.5v11.8h-13.5zM248.2 1268.3h13.5v11.8h-13.5zM250.1 1267.8h13.5v11.8h-13.5zM251.9 1268.7h13.5v11.8h-13.5zM253.7 1269.3h13.5v11.8h-13.5zM255.5 1268.4h13.5v11.8h-13.5zM257.3 1268.4h13.5v11.8h-13.5zM259.1 1268.8h13.5v11.8h-13.5zM260.9 1270h13.5v11.8h-13.5zM262.8 1270.1h13.5v11.8h-13.5zM264.6 1269.6h13.5v11.8h-13.5zM266.4 1270.2h13.5v11.8h-13.5zM268.2 1270.1h13.5v11.8h-13.5zM270 1269.3h13.5v11.8h-13.5zM271.8 1268.8h13.5v11.8h-13.5zM273.6 1270h13.5v11.8h-13.5zM275.5 1269.9h13.5v11.8h-13.5zM277.3 1269.6h13.5v11.8h-13.5zM279.1 1269.4h13.5v11.8h-13.5zM280.9 1269.9h13.5v11.8h-13.5zM282.7 1270h13.5v11.8h-13.5zM284.5 1269.6h13.5v11.8h-13.5zM286.3 1269.7h13.5v11.8h-13.5zM288.2 1270h13.5v11.8h-13.5zM290 1270.8h13.5v11.8h-13.5zM291.8 1270.3h13.5v11.8h-13.5zM293.6 1269.7h13.5v11.8h-13.5zM295.4 1269.6h13.5v11.8h-13.5zM297.2 1270h13.5v11.8h-13.5zM299 1269.5h13.5v11.8h-13.5zM300.9 1269.4h13.5v11.8h-13.5zM302.7 1270.1h13.5v11.8h-13.5zM304.5 1269.2h13.5v11.8h-13.5zM306.3 1270h13.5v11.8h-13.5zM308.1 1269.7h13.5v11.8h-13.5zM309.9 1270.4h13.5v11.8h-13.5zM311.7 1270.5h13.5v11.8h-13.5zM313.6 1270.3h13.5v11.8h-13.5zM315.4 1270.3h13.5v11.8h-13.5zM317.2 1269.7h13.5v11.8h-13.5zM319 1270.2h13.5v11.8h-13.5zM320.8 1269.5h13.5v11.8h-13.5zM322.6 1270h13.5v11.8h-13.5zM324.4 1269.5h13.5v11.8h-13.5zM326.3 1269.7h13.5v11.8h-13.5zM328.1 1268.9h13.5v11.8h-13.5zM329.9 1269.2h13.5v11.8h-13.5zM331.7 1270.7h13.5v11.8h-13.5zM333.5 1269.2h13.5v11.8h-13.5zM335.3 1270.1h13.5v11.8h-13.5zM337.1 1270h13.5v11.8h-13.5zM339 1270.1h13.5v11.8h-13.5zM340.8 1269.6h13.5v11.8h-13.5zM342.6 1269.8h13.5v11.8h-13.5zM344.4 1268.7h13.5v11.8h-13.5zM346.2 1268.7h13.5v11.8h-13.5zM348 1268.9h13.5v11.8h-13.5zM349.8 1268.8h13.5v11.8h-13.5zM351.6 1268.7h13.5v11.8h-13.5zM353.5 1268.7h13.5v11.8h-13.5zM355.3 1269.5h13.5v11.8h-13.5zM357.1 1268.8h13.5v11.8h-13.5zM358.9 1270.3h13.5v11.8h-13.5zM360.7 1269.7h13.5v11.8h-13.5zM362.5 1269.4h13.5v11.8h-13.5zM364.3 1269.7h13.5v11.8h-13.5zM366.2 1268.8h13.5v11.8h-13.5zM368 1270.1h13.5v11.8h-13.5zM369.8 1269.9h13.5v11.8h-13.5zM371.6 1269.6h13.5v11.8h-13.5zM373.4 1269.1h13.5v11.8h-13.5zM375.2 1269.8h13.5v11.8h-13.5zM377 1269.5h13.5v11.8h-13.5zM378.9 1269.3h13.5v11.8h-13.5zM380.7 1269.8h13.5v11.8h-13.5zM382.5 1269.2h13.5v11.8h-13.5zM384.3 1268.6h13.5v11.8h-13.5zM386.1 1269h13.5v11.8h-13.5zM387.9 1268.2h13.5v11.8h-13.5zM389.7 1268.2h13.5v11.8h-13.5zM391.6 1269.2h13.5v11.8h-13.5zM393.4 1269.3h13.5v11.8h-13.5zM395.2 1269.6h13.5v11.8h-13.5zM397 1269.3h13.5v11.8h-13.5zM398.8 1268.7h13.5v11.8h-13.5zM400.6 1267.7h13.5v11.8h-13.5zM402.4 1268.5h13.5v11.8h-13.5zM404.3 1269.3h13.5v11.8h-13.5zM406.1 1269h13.5v11.8h-13.5zM407.9 1268.3h13.5v11.8h-13.5zM409.7 1268.2h13.5v11.8h-13.5zM411.5 1267.7h13.5v11.8h-13.5zM413.3 1267.6h13.5v11.8h-13.5zM415.1 1267.3h13.5v11.8h-13.5zM417 1268.9h13.5v11.8h-13.5zM418.8 1268.4h13.5v11.8h-13.5zM420.6 1267.3h13.5v11.8h-13.5zM422.4 1267.8h13.5v11.8h-13.5zM424.2 1267h13.5v11.8h-13.5zM426 1267.3h13.5v11.8h-13.5zM427.8 1268.3h13.5v11.8h-13.5zM429.7 1268.1h13.5v11.8h-13.5zM431.5 1267.7h13.5v11.8h-13.5zM433.3 1267.3h13.5v11.8h-13.5zM435.1 1268h13.5v11.8h-13.5zM436.9 1268.5h13.5v11.8h-13.5zM438.7 1267.4h13.5v11.8h-13.5zM440.5 1266.7h13.5v11.8h-13.5zM442.3 1266.6h13.5v11.8h-13.5zM444.2 1266.6h13.5v11.8h-13.5zM446 1268.3h13.5v11.8h-13.5zM447.8 1267.4h13.5v11.8h-13.5zM449.6 1268h13.5v11.8h-13.5zM451.4 1266.6h13.5v11.8h-13.5zM453.2 1266.7h13.5v11.8h-13.5zM455 1267.5h13.5v11.8h-13.5zM456.9 1267.9h13.5v11.8h-13.5zM458.7 1266.7h13.5v11.8h-13.5zM460.5 1266.1h13.5v11.8h-13.5zM462.3 1267.7h13.5v11.8h-13.5zM464.1 1266.5h13.5v11.8h-13.5zM465.9 1267.3h13.5v11.8h-13.5zM467.7 1266.1h13.5v11.8h-13.5zM469.6 1267.2h13.5v11.8h-13.5zM471.4 1267.4h13.5v11.8h-13.5zM473.2 1267.1h13.5v11.8h-13.5zM475 1266.3h13.5v11.8h-13.5zM476.8 1267h13.5v11.8h-13.5zM478.6 1265.8h13.5v11.8h-13.5zM480.4 1266.1h13.5v11.8h-13.5zM482.3 1266.3h13.5v11.8h-13.5zM484.1 1267.1h13.5v11.8h-13.5zM485.9 1265.6h13.5v11.8h-13.5zM487.7 1267h13.5v11.8h-13.5zM489.5 1266.8h13.5v11.8h-13.5zM491.3 1267.1h13.5v11.8h-13.5zM493.1 1265.9h13.5v11.8h-13.5zM495 1265.5h13.5v11.8h-13.5zM496.8 1265.5h13.5v11.8h-13.5zM498.6 1266.6h13.5v11.8h-13.5zM500.4 1266.8h13.5v11.8h-13.5zM502.2 1266.3h13.5v11.8h-13.5zM504 1265.8h13.5v11.8h-13.5zM505.8 1265.3h13.5v11.8h-13.5zM507.7 1266.4h13.5v11.8h-13.5zM509.5 1266.4h13.5v11.8h-13.5zM511.3 1264.8h13.5v11.8h-13.5zM513.1 1265h13.5v11.8h-13.5zM514.9 1266.2h13.5v11.8h-13.5zM516.7 1266.1h13.5v11.8h-13.5zM518.5 1265h13.5v11.8h-13.5zM520.4 1264.9h13.5v11.8h-13.5zM522.2 1265.1h13.5v11.8h-13.5zM524 1265.3h13.5v11.8h-13.5zM525.8 1264.4h13.5v11.8h-13.5zM527.6 1265.8h13.5v11.8h-13.5zM529.4 1265.1h13.5v11.8h-13.5zM531.2 1265.5h13.5v11.8h-13.5zM533 1264.4h13.5v11.8h-13.5zM534.9 1265.8h13.5v11.8h-13.5zM536.7 1265.3h13.5v11.8h-13.5zM538.5 1264.5h13.5v11.8h-13.5zM540.3 1265.6h13.5v11.8h-13.5zM542.1 1265.1h13.5v11.8h-13.5zM543.9 1265.3h13.5v11.8h-13.5zM545.7 1263.6h13.5v11.8h-13.5zM547.6 1263.6h13.5v11.8h-13.5zM549.4 1264.9h13.5v11.8h-13.5zM551.2 1264h13.5v11.8h-13.5zM553 1264.4h13.5v11.8h-13.5zM554.8 1263.6h13.5v11.8h-13.5zM556.6 1265.2h13.5v11.8h-13.5zM558.4 1264.2h13.5v11.8h-13.5zM560.3 1264.8h13.5v11.8h-13.5zM562.1 1263.2h13.5v11.8h-13.5zM563.9 1263.9h13.5v11.8h-13.5zM565.7 1263.1h13.5v11.8h-13.5zM567.5 1264.6h13.5v11.8h-13.5zM569.3 1263.7h13.5v11.8h-13.5zM571.1 1262.9h13.5v11.8h-13.5zM573 1262.9h13.5v11.8h-13.5zM574.8 1263.7h13.5v11.8h-13.5zM576.6 1262.8h13.5v11.8h-13.5zM578.4 1262.9h13.5v11.8h-13.5zM580.2 1263.4h13.5v11.8h-13.5zM582 1263.4h13.5v11.8h-13.5zM583.8 1263.5h13.5v11.8h-13.5zM585.7 1263.6h13.5v11.8h-13.5zM587.5 1263h13.5v11.8h-13.5zM589.3 1263.5h13.5v11.8h-13.5zM591.1 1262.5h13.5v11.8h-13.5zM592.9 1262.7h13.5v11.8h-13.5zM594.7 1263.7h13.5v11.8h-13.5zM596.5 1262.3h13.5v11.8h-13.5zM598.4 1262.4h13.5v11.8h-13.5zM600.2 1262.4h13.5v11.8h-13.5zM602 1262.8h13.5v11.8h-13.5zM603.8 1261.8h13.5v11.8h-13.5zM605.6 1261.8h13.5v11.8h-13.5zM607.4 1262.6h13.5v11.8h-13.5zM609.2 1261.9h13.5v11.8h-13.5zM611 1262.9h13.5v11.8h-13.5zM612.9 1263.1h13.5v11.8h-13.5zM614.7 1262.6h13.5v11.8h-13.5zM616.5 1262.8h13.5v11.8h-13.5zM618.3 1262.1h13.5v11.8h-13.5zM620.1 1261.4h13.5v11.8h-13.5zM621.9 1262.1h13.5v11.8h-13.5zM623.7 1261.9h13.5v11.8h-13.5zM625.6 1262.3h13.5v11.8h-13.5zM627.4 1261.3h13.5v11.8h-13.5zM629.2 1261.5h13.5v11.8h-13.5zM631 1262.6h13.5v11.8h-13.5zM632.8 1261.4h13.5v11.8h-13.5zM634.6 1261.7h13.5v11.8h-13.5zM636.4 1262.7h13.5v11.8h-13.5zM638.3 1261.3h13.5v11.8h-13.5zM640.1 1261h13.5v11.8h-13.5zM641.9 1262h13.5v11.8h-13.5zM643.7 1261.7h13.5v11.8h-13.5zM645.5 1261.8h13.5v11.8h-13.5zM647.3 1260.6h13.5v11.8h-13.5zM649.1 1261.3h13.5v11.8h-13.5zM651 1260.4h13.5v11.8h-13.5zM652.8 1260.8h13.5v11.8h-13.5zM654.6 1261.7h13.5v11.8h-13.5zM656.4 1260.3h13.5v11.8h-13.5zM658.2 1260.7h13.5v11.8h-13.5zM660 1262.1h13.5v11.8h-13.5zM661.8 1262h13.5v11.8h-13.5zM663.7 1260.9h13.5v11.8h-13.5zM665.5 1261.4h13.5v11.8h-13.5zM667.3 1261.1h13.5v11.8h-13.5zM669.1 1260.8h13.5v11.8h-13.5zM670.9 1261.5h13.5v11.8h-13.5zM672.7 1260.1h13.5v11.8h-13.5zM674.5 1261.3h13.5v11.8h-13.5zM676.4 1259.7h13.5v11.8h-13.5zM678.2 1261.3h13.5v11.8h-13.5zM680 1260.8h13.5v11.8h-13.5zM681.8 1260.3h13.5v11.8h-13.5zM683.6 1260.7h13.5v11.8h-13.5zM685.4 1260.3h13.5v11.8h-13.5zM687.2 1260.8h13.5v11.8h-13.5zM689.1 1259.5h13.5v11.8h-13.5zM690.9 1260.2h13.5v11.8h-13.5zM692.7 1260.9h13.5v11.8h-13.5zM694.5 1260.9h13.5v11.8h-13.5zM696.3 1259.5h13.5v11.8h-13.5zM698.1 1259.5h13.5v11.8h-13.5zM699.9 1260.7h13.5v11.8h-13.5zM701.8 1259.5h13.5v11.8h-13.5zM703.6 1258.9h13.5v11.8h-13.5zM705.4 1260.2h13.5v11.8h-13.5zM707.2 1259.5h13.5v11.8h-13.5zM709 1260.1h13.5v11.8h-13.5zM710.8 1259.5h13.5v11.8h-13.5zM712.6 1259.5h13.5v11.8h-13.5zM714.4 1259.3h13.5v11.8h-13.5zM716.3 1259h13.5v11.8h-13.5zM718.1 1260.2h13.5v11.8h-13.5zM719.9 1259.7h13.5v11.8h-13.5zM721.7 1259.9h13.5v11.8h-13.5zM723.5 1260h13.5v11.8h-13.5zM725.3 1258.7h13.5v11.8h-13.5zM727.1 1260h13.5v11.8h-13.5zM729 1259.8h13.5v11.8h-13.5zM730.8 1259.1h13.5v11.8h-13.5zM732.6 1259.1h13.5v11.8h-13.5zM734.4 1258.2h13.5v11.8h-13.5zM736.2 1259.4h13.5v11.8h-13.5zM738 1258.2h13.5v11.8h-13.5zM739.8 1258.9h13.5v11.8h-13.5zM741.7 1258h13.5v11.8h-13.5zM743.5 1257.9h13.5v11.8h-13.5zM745.3 1258.9h13.5v11.8h-13.5zM747.1 1258.6h13.5v11.8h-13.5zM748.9 1258.9h13.5v11.8h-13.5zM750.7 1259.1h13.5v11.8h-13.5zM752.5 1259.4h13.5v11.8h-13.5zM754.4 1257.6h13.5v11.8h-13.5zM756.2 1258.6h13.5v11.8h-13.5zM758 1258.5h13.5v11.8h-13.5zM759.8 1258.6h13.5v11.8h-13.5zM761.6 1258.3h13.5v11.8h-13.5zM763.4 1258.3h13.5v11.8h-13.5zM765.2 1258.8h13.5v11.8h-13.5zM767.1 1258h13.5v11.8h-13.5zM768.9 1258.1h13.5v11.8h-13.5zM770.7 1258.3h13.5v11.8h-13.5zM772.5 1257.1h13.5v11.8h-13.5zM774.3 1257.7h13.5v11.8h-13.5zM776.1 1257h13.5v11.8h-13.5zM777.9 1257h13.5v11.8h-13.5zM779.8 1256.7h13.5v11.8h-13.5zM781.6 1257.1h13.5v11.8h-13.5zM783.4 1257h13.5v11.8h-13.5zM785.2 1257.6h13.5v11.8h-13.5zM787 1257.6h13.5v11.8h-13.5zM788.8 1258.1h13.5v11.8h-13.5zM790.6 1257.3h13.5v11.8h-13.5zM792.5 1258.1h13.5v11.8h-13.5zM794.3 1257h13.5v11.8h-13.5zM796.1 1257.7h13.5v11.8h-13.5zM797.9 1257.2h13.5v11.8h-13.5zM799.7 1257.3h13.5v11.8h-13.5zM801.5 1256.5h13.5v11.8h-13.5zM803.3 1257.8h13.5v11.8h-13.5zM805.1 1257.4h13.5v11.8h-13.5zM807 1256.1h13.5v11.8h-13.5zM808.8 1256.8h13.5v11.8h-13.5zM810.6 1257.7h13.5v11.8h-13.5zM812.4 1255.7h13.5v11.8h-13.5zM814.2 1256.1h13.5v11.8h-13.5zM816 1257h13.5v11.8h-13.5zM817.8 1255.5h13.5v11.8h-13.5zM819.7 1256.8h13.5v11.8h-13.5zM821.5 1256.4h13.5v11.8h-13.5zM823.3 1256.7h13.5v11.8h-13.5zM825.1 1256.2h13.5v11.8h-13.5zM826.9 1256.9h13.5v11.8h-13.5zM828.7 1255.7h13.5v11.8h-13.5zM830.5 1256h13.5v11.8h-13.5zM832.4 1254.9h13.5v11.8h-13.5zM834.2 1255.8h13.5v11.8h-13.5zM836 1255.5h13.5v11.8h-13.5zM837.8 1256.5h13.5v11.8h-13.5zM839.6 1256.4h13.5v11.8h-13.5zM841.4 1254.7h13.5v11.8h-13.5zM843.2 1254.4h13.5v11.8h-13.5zM845.1 1254.5h13.5v11.8h-13.5zM846.9 1254.5h13.5v11.8h-13.5zM848.7 1255.5h13.5v11.8h-13.5zM850.5 1255.1h13.5v11.8h-13.5zM852.3 1254.9h13.5v11.8h-13.5zM854.1 1254.7h13.5v11.8h-13.5zM855.9 1253.7h13.5v11.8h-13.5zM857.8 1254.4h13.5v11.8h-13.5zM859.6 1255.5h13.5v11.8h-13.5zM861.4 1255.1h13.5v11.8h-13.5zM863.2 1254.5h13.5v11.8h-13.5zM865 1253.6h13.5v11.8h-13.5zM866.8 1255h13.5v11.8h-13.5zM868.6 1253.9h13.5v11.8h-13.5zM870.5 1254.2h13.5v11.8h-13.5zM872.3 1253.3h13.5v11.8h-13.5zM874.1 1253.4h13.5v11.8h-13.5zM875.9 1253.3h13.5v11.8h-13.5zM877.7 1253.3h13.5v11.8h-13.5zM879.5 1252.5h13.5v11.8h-13.5zM881.3 1253.7h13.5v11.8h-13.5zM883.2 1252.6h13.5v11.8h-13.5zM885 1253.4h13.5v11.8h-13.5zM886.8 1253.3h13.5v11.8h-13.5zM888.6 1253.4h13.5v11.8h-13.5zM890.4 1252.4h13.5v11.8h-13.5zM892.2 1252.3h13.5v11.8h-13.5z"/>
<path fill="#ff0000" d="M154.8 1085.3a7.4 6.8 0 1 0 14.8 0a7.4 6.8 0 1 0 -14.8 0zM158.6 1035.4a7.4 6.8 0 1 0 14.8 0a7.4 6.8 0 1 0 -14.8 0zM160.4 1004.3a7.4 6.8 0 1 0 14.8 0a7.4 6.8 0 1 0 -14.8 0zM162.3 982.9a7.4 6.8 0 1 0 14.8 0a7.4 6.8 0 1 0 -14.8 0zM164.1 972.9a7.4 6.8 0 1 0 14.8 0a7.4 6.8 0 1 0 -14.8 0zM165.9 969.5a7.4 6.8 0 1 0 14.8 0a7.4 6.8 0 1 0 -14.8 0zM167.7 968.9a7.4 6.8 0 1 0 14.8 0a7.4 6.8 0 1 0 -14.8 0zM169.5 970.5a7.4 6.8 0 1 0 14.8 0a7.4 6.8 0 1 0 -14.8 0zM171.3 973.1a7.4 6.8 0 1 0 14.8 0a7.4 6.8 0 1 0 -14.8 0zM173.1 978.1a7.4 6.8 0 1 0 14.8 0a7.4 6.8 0 1 0 -14.8 0zM175 984.8a7.4 6.8 0 1 0 14.8 0a7.4 6.8 0 1 0 -14.8 0zM176.8 997.4a7.4 6.8 0 1 0 14.8 0a7.4 6.8 0 1 0 -14.8 0zM178.6 1016.8a7.4 6.8 0 1 0 14.8 0a7.4 6.8 0 1 0 -14.8 0zM180.4 1039.9a7.4 6.8 0 1 0 14.8 0a7.4 6.8 0 1 0 -14.8 0zM182.2 1062.8a7.4 6.8 0 1 0 14.8 0a7.4 6.8 0 1 0 -14.8 0zM184 1082.4a7.4 6.8 0 1 0 14.8 0a7.4 6.8 0 1 0 -14.8 0zM185.8 1098.5a7.4 6.8 0 1 0 14.8 0a7.4 6.8 0 1 0 -14.8 0zM187.7 1111.4a7.4 6.8 0 1 0 14.8 0a7.4 6.8 0 1 0 -14.8 0zM189.5 1119.9a7.4 6.8 0 1 0 14.8 0a7.4 6.8 0 1 0 -14.8 0zM191.3 1125.9a7.4 6.8 0 1 0 14.8 0a7.4 6.8 0 1 0 -14.8 0zM193.1 1130a7.4 6.8 0 1 0 14.8 0a7.4 6.8 0 1 0 -14.8 0zM194.9 1132.5a7.4 6.8 0 1 0 14.8 0a7.4 6.8 0 1 0 -14.8 0zM196.7 1133.6a7.4 6.8 0 1 0 14.8 0a7.4 6.8 0 1 0 -14.8 0zM198.5 1134a7.4 6.8 0 1 0 14.8 0a7.4 6.8 0 1 0 -14.8 0zM200.3 1134a7.4 6.8 0 1 0 14.8 0a7.4 6.8 0 1 0 -14.8 0zM202.2 1133.6a7.4 6.8 0 1 0 14.8 0a7.4 6.8 0 1 0 -14.8 0zM204 1132.7a7.4 6.8 0 1 0 14.8 0a7.4 6.8 0 1 0 -14.8 0zM205.8 1131.6a7.4 6.8 0 1 0 14.8 0a7.4 6.8 0 1 0 -14.8 0zM207.6 1130.5a7.4 6.8 0 1 0 14.8 0a7.4 6.8 0 1 0 -14.8 0zM209.4 1129.5a7.4 6.8 0 1 0 14.8 0a7.4 6.8 0 1 0 -14.8 0zM211.2 1128.4a7.4 6.8 0 1 0 14.8 0a7.4 6.8 0 1 0 -14.8 0zM213 1127.2a7.4 6.8 0 1 0 14.8 0a7.4 6.8 0 1 0 -14.8 0zM214.9 1126a7.4 6.8 0 1 0 14.8 0a7.4 6.8 0 1 0 -14.8 0zM216.7 1124.7a7.4 6.8 0 1 0 14.8 0a7.4 6.8 0 1 0 -14.8 0zM218.5 1123.5a7.4 6.8 0 1 0 14.8 0a7.4 6.8 0 1 0 -14.8 0zM220.3 1122.2a7.4 6.8 0 1 0 14.8 0a7.4 6.8 0 1 0 -14.8 0zM222.1 1120.8a7.4 6.8 0 1 0 14.8 0a7.4 6.8 0 1 0 -14.8 0zM223.9 1119.4a7.4 6.8 0 1 0 14.8 0a7.4 6.8 0 1 0 -14.8 0zM225.7 1117.9a7.4 6.8 0 1 0 14.8 0a7.4 6.8 0 1 0 -14.8 0zM227.6 1116.4a7.4 6.8 0 1 0 14.8 0a7.4 6.8 0 1 0 -14.8 0zM229.4 1114.9a7.4 6.8 0 1 0 14.8 0a7.4 6.8 0 1 0 -14.8 0zM231.2 1113.4a7.4 6.8 0 1 0 14.8 0a7.4 6.8 0 1 0 -14.8 0zM233 1112a7.4 6.8 0 1 0 14.8 0a7.4 6.8 0 1 0 -14.8 0zM234.8 1110.6a7.4 6.8 0 1 0 14.8 0a7.4 6.8 0 1 0 -14.8 0zM236.6 1109.2a7.4 6.8 0 1 0 14.8 0a7.4 6.8 0 1 0 -14.8 0zM238.4 1107.8a7.4 6.8 0 1 0 14.8 0a7.4 6.8 0 1 0 -14.8 0zM240.3 1106.5a7.4 6.8 0 1 0 14.8 0a7.4 6.8 0 1 0 -14.8 0zM242.1 1105.1a7.4 6.8 0 1 0 14.8 0a7.4 6.8 0 1 0 -14.8 0zM243.9 1103.8a7.4 6.8 0 1 0 14.8 0a7.4 6.8 0 1 0 -14.8 0zM245.7 1102.5a7.4 6.8 0 1 0 14.8 0a7.4 6.8 0 1 0 -14.8 0zM247.5 1101.1a7.4 6.8 0 1 0 14.8 0a7.4 6.8 0 1 0 -14.8 0zM249.3 1099.8a7.4 6.8 0 1 0 14.8 0a7.4 6.8 0 1 0 -14.8 0zM251.1 1098.5a7.4 6.8 0 1 0 14.8 0a7.4 6.8 0 1 0 -14.8 0zM253 1097.1a7.4 6.8 0 1 0 14.8 0a7.4 6.8 0 1 0 -14.8 0zM254.8 1095.8a7.4 6.8 0 1 0 14.8 0a7.4 6.8 0 1 0 -14.8 0zM256.6 1094.4a7.4 6.8 0 1 0 14.8 0a7.4 6.8 0 1 0 -14.8 0zM258.4 1093a7.4 6.8 0 1 0 14.8 0a7.4 6.8 0 1 0 -14.8 0zM260.2 1091.5a7.4 6.8 0 1 0 14.8 0a7.4 6.8 0 1 0 -14.8 0zM262 1090.1a7.4 6.8 0 1 0 14.8 0a7.4 6.8 0 1 0 -14.8 0zM263.8 1088.6a7.4 6.8 0 1 0 14.8 0a7.4 6.8 0 1 0 -14.8 0zM265.7 1087.1a7.4 6.8 0 1 0 14.8 0a7.4 6.8 0 1 0 -14.8 0zM267.5 1085.6a7.4 6.8 0 1 0 14.8 0a7.4 6.8 0 1 0 -14.8 0zM269.3 1084.1a7.4 6.8 0 1 0 14.8 0a7.4 6.8 0 1 0 -14.8 0zM271.1 1082.6a7.4 6.8 0 1 0 14.8 0a7.4 6.8 0 1 0 -14.8 0zM272.9 1081.1a7.4 6.8 0 1 0 14.8 0a7.4 6.8 0 1 0 -14.8 0zM274.7 1079.6a7.4 6.8 0 1 0 14.8 0a7.4 6.8 0 1 0 -14.8 0zM276.5 1078a7.4 6.8 0 1 0 14.8 0a7.4 6.8 0 1 0 -14.8 0zM278.4 1076.5a7.4 6.8 0 1 0 14.8 0a7.4 6.8 0 1 0 -14.8 0zM280.2 1075a7.4 6.8 0 1 0 14.8 0a7.4 6.8 0 1 0 -14.8 0zM282 1073.5a7.4 6.8 0 1 0 14.8 0a7.4 6.8 0 1 0 -14.8 0zM283.8 1072a7.4 6.8 0 1 0 14.8 0a7.4 6.8 0 1 0 -14.8 0zM285.6 1070.5a7.4 6.8 0 1 0 14.8 0a7.4 6.8 0 1 0 -14.8 0zM287.4 1069.1a7.4 6.8 0 1 0 14.8 0a7.4 6.8 0 1 0 -14.8 0zM289.2 1067.6a7.4 6.8 0 1 0 14.8 0a7.4 6.8 0 1 0 -14.8 0zM291.1 1066.2a7.4 6.8 0 1 0 14.8 0a7.4 6.8 0 1 0 -14.8 0zM292.9 1064.7a7.4 6.8 0 1 0 14.8 0a7.4 6.8 0 1 0 -14.8 0zM294.7 1063.2a7.4 6.8 0 1 0 14.8 0a7.4 6.8 0 1 0 -14.8 0zM296.5 1061.6a7.4 6.8 0 1 0 14.8 0a7.4 6.8 0 1 0 -14.8 0zM298.3 1060a7.4 6.8 0 1 0 14.8 0a7.4 6.8 0 1 0 -14.8 0zM300.1 1058.3a7.4 6.8 0 1 0 14.8 0a7.4 6.8 0 1 0 -14.8 0zM301.9 1056.5a7.4 6.8 0 1 0 14.8 0a7.4 6.8 0 1 0 -14.8 0zM303.7 1054.7a7.4 6.8 0 1 0 14.8 0a7.4 6.8 0 1 0 -14.8 0zM305.6 1052.6a7.4 6.8 0 1 0 14.8 0a7.4 6.8 0 1 0 -14.8 0zM307.4 1050.4a7.4 6.8 0 1 0 14.8 0a7.4 6.8 0 1 0 -14.8 0zM309.2 1047.8a7.4 6.8 0 1 0 14.8 0a7.4 6.8 0 1 0 -14.8 0zM311 1044.9a7.4 6.8 0 1 0 14.8 0a7.4 6.8 0 1 0 -14.8 0zM312.8 1041.7a7.4 6.8 0 1 0 14.8 0a7.4 6.8 0 1 0 -14.8 0zM314.6 1038.4a7.4 6.8 0 1 0 14.8 0a7.4 6.8 0 1 0 -14.8 0zM316.4 1035.1a7.4 6.8 0 1 0 14.8 0a7.4 6.8 0 1 0 -14.8 0zM318.3 1031.2a7.4 6.8 0 1 0 14.8 0a7.4 6.8 0 1 0 -14.8 0zM320.1 1026.3a7.4 6.8 0 1 0 14.8 0a7.4 6.8 0 1 0 -14.8 0zM321.9 1020.5a7.4 6.8 0 1 0 14.8 0a7.4 6.8 0 1 0 -14.8 0zM323.7 1013.6a7.4 6.8 0 1 0 14.8 0a7.4 6.8 0 1 0 -14.8 0zM325.5 1004.5a7.4 6.8 0 1 0 14.8 0a7.4 6.8 0 1 0 -14.8 0zM327.3 996.3a7.4 6.8 0 1 0 14.8 0a7.4 6.8 0 1 0 -14.8 0zM329.1 987.6a7.4 6.8 0 1 0 14.8 0a7.4 6.8 0 1 0 -14.8 0zM331 980.4a7.4 6.8 0 1 0 14.8 0a7.4 6.8 0 1 0 -14.8 0zM332.8 975.1a7.4 6.8 0 1 0 14.8 0a7.4 6.8 0 1 0 -14.8 0zM334.6 972a7.4 6.8 0 1 0 14.8 0a7.4 6.8 0 1 0 -14.8 0zM336.4 970.2a7.4 6.8 0 1 0 14.8 0a7.4 6.8 0 1 0 -14.8 0zM338.2 969.4a7.4 6.8 0 1 0 14.8 0a7.4 6.8 0 1 0 -14.8 0zM340 968.9a7.4 6.8 0 1 0 14.8 0a7.4 6.8 0 1 0 -14.8 0zM341.8 968.7a7.4 6.8 0 1 0 14.8 0a7.4 6.8 0 1 0 -14.8 0zM343.7 968.8a7.4 6.8 0 1 0 14.8 0a7.4 6.8 0 1 0 -14.8 0zM345.5 969.1a7.4 6.8 0 1 0 14.8 0a7.4 6.8 0 1 0 -14.8 0zM347.3 969.6a7.4 6.8 0 1 0 14.8 0a7.4 6.8 0 1 0 -14.8 0zM349.1 970.1a7.4 6.8 0 1 0 14.8 0a7.4 6.8 0 1 0 -14.8 0zM350.9 970.7a7.4 6.8 0 1 0 14.8 0a7.4 6.8 0 1 0 -14.8 0zM352.7 971.4a7.4 6.8 0 1 0 14.8 0a7.4 6.8 0 1 0 -14.8 0zM354.5 972.2a7.4 6.8 0 1 0 14.8 0a7.4 6.8 0 1 0 -14.8 0zM356.4 973a7.4 6.8 0 1 0 14.8 0a7.4 6.8 0 1 0 -14.8 0zM358.2 973.8a7.4 6.8 0 1 0 14.8 0a7.4 6.8 0 1 0 -14.8 0zM360 974.5a7.4 6.8 0 1 0 14.8 0a7.4 6.8 0 1 0 -14.8 0zM361.8 975.2a7.4 6.8 0 1 0 14.8 0a7.4 6.8 0 1 0 -14.8 0zM363.6 975.9a7.4 6.8 0 1 0 14.8 0a7.4 6.8 0 1 0 -14.8 0zM365.4 976.5a7.4 6.8 0 1 0 14.8 0a7.4 6.8 0 1 0 -14.8 0zM367.2 977.2a7.4 6.8 0 1 0 14.8 0a7.4 6.8 0 1 0 -14.8 0zM369.1 977.8a7.4 6.8 0 1 0 14.8 0a7.4 6.8 0 1 0 -14.8 0zM370.9 978.5a7.4 6.8 0 1 0 14.8 0a7.4 6.8 0 1 0 -14.8 0zM372.7 979.1a7.4 6.8 0 1 0 14.8 0a7.4 6.8 0 1 0 -14.8 0zM374.5 979.7a7.4 6.8 0 1 0 14.8 0a7.4 6.8 0 1 0 -14.8 0zM376.3 980.4a7.4 6.8 0 1 0 14.8 0a7.4 6.8 0 1 0 -14.8 0zM378.1 981a7.4 6.8 0 1 0 14.8 0a7.4 6.8 0 1 0 -14.8 0zM379.9 981.6a7.4 6.8 0 1 0 14.8 0a7.4 6.8 0 1 0 -14.8 0zM381.8 982.2a7.4 6.8 0 1 0 14.8 0a7.4 6.8 0 1 0 -14.8 0zM383.6 982.9a7.4 6.8 0 1 0 14.8 0a7.4 6.8 0 1 0 -14.8 0zM385.4 983.5a7.4 6.8 0 1 0 14.8 0a7.4 6.8 0 1 0 -14.8 0zM387.2 984.1a7.4 6.8 0 1 0 14.8 0a7.4 6.8 0 1 0 -14.8 0zM389 984.7a7.4 6.8 0 1 0 14.8 0a7.4 6.8 0 1 0 -14.8 0zM390.8 985.2a7.4 6.8 0 1 0 14.8 0a7.4 6.8 0 1 0 -14.8 0zM392.6 985.8a7.4 6.8 0 1 0 14.8 0a7.4 6.8 0 1 0 -14.8 0zM394.4 986.4a7.4 6.8 0 1 0 14.8 0a7.4 6.8 0 1 0 -14.8 0zM396.3 987a7.4 6.8 0 1 0 14.8 0a7.4 6.8 0 1 0 -14.8 0zM398.1 987.6a7.4 6.8 0 1 0 14.8 0a7.4 6.8 0 1 0 -14.8 0zM399.9 988.1a7.4 6.8 0 1 0 14.8 0a7.4 6.8 0 1 0 -14.8 0zM401.7 988.7a7.4 6.8 0 1 0 14.8 0a7.4 6.8 0 1 0 -14.8 0zM403.5 989.3a7.4 6.8 0 1 0 14.8 0a7.4 6.8 0 1 0 -14.8 0zM405.3 989.8a7.4 6.8 0 1 0 14.8 0a7.4 6.8 0 1 0 -14.8 0zM407.1 990.4a7.4 6.8 0 1 0 14.8 0a7.4 6.8 0 1 0 -14.8 0zM409 990.9a7.4 6.8 0 1 0 14.8 0a7.4 6.8 0 1 0 -14.8 0zM410.8 991.5a7.4 6.8 0 1 0 14.8 0a7.4 6.8 0 1 0 -14.8 0zM412.6 992a7.4 6.8 0 1 0 14.8 0a7.4 6.8 0 1 0 -14.8 0zM414.4 992.5a7.4 6.8 0 1 0 14.8 0a7.4 6.8 0 1 0 -14.8 0zM416.2 993.1a7.4 6.8 0 1 0 14.8 0a7.4 6.8 0 1 0 -14.8 0zM418 993.6a7.4 6.8 0 1 0 14.8 0a7.4 6.8 0 1 0 -14.8 0zM419.8 994.1a7.4 6.8 0 1 0 14.8 0a7.4 6.8 0 1 0 -14.8 0zM421.7 994.6a7.4 6.8 0 1 0 14.8 0a7.4 6.8 0 1 0 -14.8 0zM423.5 995.2a7.4 6.8 0 1 0 14.8 0a7.4 6.8 0 1 0 -14.8 0zM425.3 995.7a7.4 6.8 0 1 0 14.8 0a7.4 6.8 0 1 0 -14.8 0zM427.1 996.2a7.4 6.8 0 1 0 14.8 0a7.4 6.8 0 1 0 -14.8 0zM428.9 996.7a7.4 6.8 0 1 0 14.8 0a7.4 6.8 0 1 0 -14.8 0zM430.7 997.2a7.4 6.8 0 1 0 14.8 0a7.4 6.8 0 1 0 -14.8 0zM432.5 997.7a7.4 6.8 0 1 0 14.8 0a7.4 6.8 0 1 0 -14.8 0zM434.4 998.2a7.4 6.8 0 1 0 14.8 0a7.4 6.8 0 1 0 -14.8 0zM436.2 998.6a7.4 6.8 0 1 0 14.8 0a7.4 6.8 0 1 0 -14.8 0zM438 999.1a7.4 6.8 0 1 0 14.8 0a7.4 6.8 0 1 0 -14.8 0zM439.8 999.5a7.4 6.8 0 1 0 14.8 0a7.4 6.8 0 1 0 -14.8 0zM441.6 999.9a7.4 6.8 0 1 0 14.8 0a7.4 6.8 0 1 0 -14.8 0zM443.4 1000.3a7.4 6.8 0 1 0 14.8 0a7.4 6.8 0 1 0 -14.8 0zM445.2 1000.7a7.4 6.8 0 1 0 14.8 0a7.4 6.8 0 1 0 -14.8 0zM447.1 1001.1a7.4 6.8 0 1 0 14.8 0a7.4 6.8 0 1 0 -14.8 0zM448.9 1001.5a7.4 6.8 0 1 0 14.8 0a7.4 6.8 0 1 0 -14.8 0zM450.7 1001.9a7.4 6.8 0 1 0 14.8 0a7.4 6.8 0 1 0 -14.8 0zM452.5 1002.3a7.4 6.8 0 1 0 14.8 0a7.4 6.8 0 1 0 -14.8 0zM454.3 1002.7a7.4 6.8 0 1 0 14.8 0a7.4 6.8 0 1 0 -14.8 0zM456.1 1003a7.4 6.8 0 1 0 14.8 0a7.4 6.8 0 1 0 -14.8 0zM457.9 1003.4a7.4 6.8 0 1 0 14.8 0a7.4 6.8 0 1 0 -14.8 0zM459.8 1003.7a7.4 6.8 0 1 0 14.8 0a7.4 6.8 0 1 0 -14.8 0zM461.6 1004.1a7.4 6.8 0 1 0 14.8 0a7.4 6.8 0 1 0 -14.8 0zM463.4 1004.4a7.4 6.8 0 1 0 14.8 0a7.4 6.8 0 1 0 -14.8 0zM465.2 1004.8a7.4 6.8 0 1 0 14.8 0a7.4 6.8 0 1 0 -14.8 0zM467 1005.1a7.4 6.8 0 1 0 14.8 0a7.4 6.8 0 1 0 -14.8 0zM468.8 1005.5a7.4 6.8 0 1 0 14.8 0a7.4 6.8 0 1 0 -14.8 0zM470.6 1005.8a7.4 6.8 0 1 0 14.8 0a7.4 6.8 0 1 0 -14.8 0zM472.5 1006.2a7.4 6.8 0 1 0 14.8 0a7.4 6.8 0 1 0 -14.8 0zM474.3 1006.5a7.4 6.8 0 1 0 14.8 0a7.4 6.8 0 1 0 -14.8 0zM476.1 1006.9a7.4 6.8 0 1 0 14.8 0a7.4 6.8 0 1 0 -14.8 0zM477.9 1007.2a7.4 6.8 0 1 0 14.8 0a7.4 6.8 0 1 0 -14.8 0zM479.7 1007.6a7.4 6.8 0 1 0 14.8 0a7.4 6.8 0 1 0 -14.8 0zM481.5 1007.9a7.4 6.8 0 1 0 14.8 0a7.4 6.8 0 1 0 -14.8 0zM483.3 1008.2a7.4 6.8 0 1 0 14.8 0a7.4 6.8 0 1 0 -14.8 0zM485.1 1008.6a7.4 6.8 0 1 0 14.8 0a7.4 6.8 0 1 0 -14.8 0zM487 1008.9a7.4 6.8 0 1 0 14.8 0a7.4 6.8 0 1 0 -14.8 0zM488.8 1009.2a7.4 6.8 0 1 0 14.8 0a7.4 6.8 0 1 0 -14.8 0zM490.6 1009.6a7.4 6.8 0 1 0 14.8 0a7.4 6.8 0 1 0 -14.8 0zM492.4 1009.9a7.4 6.8 0 1 0 14.8 0a7.4 6.8 0 1 0 -14.8 0zM494.2 1010.2a7.4 6.8 0 1 0 14.8 0a7.4 6.8 0 1 0 -14.8 0zM496 1010.5a7.4 6.8 0 1 0 14.8 0a7.4 6.8 0 1 0 -14.8 0zM497.8 1010.8a7.4 6.8 0 1 0 14.8 0a7.4 6.8 0 1 0 -14.8 0zM499.7 1011.1a7.4 6.8 0 1 0 14.8 0a7.4 6.8 0 1 0 -14.8 0zM501.5 1011.4a7.4 6.8 0 1 0 14.8 0a7.4 6.8 0 1 0 -14.8 0zM503.3 1011.7a7.4 6.8 0 1 0 14.8 0a7.4 6.8 0 1 0 -14.8 0zM505.1 1012a7.4 6.8 0 1 0 14.8 0a7.4 6.8 0 1 0 -14.8 0zM506.9 1012.3a7.4 6.8 0 1 0 14.8 0a7.4 6.8 0 1 0 -14.8 0zM508.7 1012.6a7.4 6.8 0 1 0 14.8 0a7.4 6.8 0 1 0 -14.8 0zM510.5 1012.8a7.4 6.8 0 1 0 14.8 0a7.4 6.8 0 1 0 -14.8 0zM512.4 1013.1a7.4 6.8 0 1 0 14.8 0a7.4 6.8 0 1 0 -14.8 0zM514.2 1013.4a7.4 6.8 0 1 0 14.8 0a7.4 6.8 0 1 0 -14.8 0zM516 1013.7a7.4 6.8 0 1 0 14.8 0a7.4 6.8 0 1 0 -14.8 0zM517.8 1014a7.4 6.8 0 1 0 14.8 0a7.4 6.8 0 1 0 -14.8 0zM519.6 1014.3a7.4 6.8 0 1 0 14.8 0a7.4 6.8 0 1 0 -14.8 0zM521.4 1014.5a7.4 6.8 0 1 0 14.8 0a7.4 6.8 0 1 0 -14.8 0zM523.2 1014.8a7.4 6.8 0 1 0 14.8 0a7.4 6.8 0 1 0 -14.8 0zM525.1 1015.1a7.4 6.8 0 1 0 14.8 0a7.4 6.8 0 1 0 -14.8 0zM526.9 1015.4a7.4 6.8 0 1 0 14.8 0a7.4 6.8 0 1 0 -14.8 0zM528.7 1015.7a7.4 6.8 0 1 0 14.8 0a7.4 6.8 0 1 0 -14.8 0zM530.5 1016a7.4 6.8 0 1 0 14.8 0a7.4 6.8 0 1 0 -14.8 0zM532.3 1016.3a7.4 6.8 0 1 0 14.8 0a7.4 6.8 0 1 0 -14.8 0zM534.1 1016.5a7.4 6.8 0 1 0 14.8 0a7.4 6.8 0 1 0 -14.8 0zM535.9 1016.8a7.4 6.8 0 1 0 14.8 0a7.4 6.8 0 1 0 -14.8 0zM537.8 1017.1a7.4 6.8 0 1 0 14.8 0a7.4 6.8 0 1 0 -14.8 0zM539.6 1017.4a7.4 6.8 0 1 0 14.8 0a7.4 6.8 0 1 0 -14.8 0zM541.4 1017.7a7.4 6.8 0 1 0 14.8 0a7.4 6.8 0 1 0 -14.8 0zM543.2 1018a7.4 6.8 0 1 0 14.8 0a7.4 6.8 0 1 0 -14.8 0zM545 1018.3a7.4 6.8 0 1 0 14.8 0a7.4 6.8 0 1 0 -14.8 0zM546.8 1018.6a7.4 6.8 0 1 0 14.8 0a7.4 6.8 0 1 0 -14.8 0zM548.6 1018.9a7.4 6.8 0 1 0 14.8 0a7.4 6.8 0 1 0 -14.8 0zM550.5 1019.2a7.4 6.8 0 1 0 14.8 0a7.4 6.8 0 1 0 -14.8 0zM552.3 1019.5a7.4 6.8 0 1 0 14.8 0a7.4 6.8 0 1 0 -14.8 0zM554.1 1019.9a7.4 6.8 0 1 0 14.8 0a7.4 6.8 0 1 0 -14.8 0zM555.9 1020.2a7.4 6.8 0 1 0 14.8 0a7.4 6.8 0 1 0 -14.8 0zM557.7 1020.6a7.4 6.8 0 1 0 14.8 0a7.4 6.8 0 1 0 -14.8 0zM559.5 1020.9a7.4 6.8 0 1 0 14.8 0a7.4 6.8 0 1 0 -14.8 0zM561.3 1021.3a7.4 6.8 0 1 0 14.8 0a7.4 6.8 0 1 0 -14.8 0zM563.2 1021.6a7.4 6.8 0 1 0 14.8 0a7.4 6.8 0 1 0 -14.8 0zM565 1022a7.4 6.8 0 1 0 14.8 0a7.4 6.8 0 1 0 -14.8 0zM566.8 1022.4a7.4 6.8 0 1 0 14.8 0a7.4 6.8 0 1 0 -14.8 0zM568.6 1022.8a7.4 6.8 0 1 0 14.8 0a7.4 6.8 0 1 0 -14.8 0zM570.4 1023.2a7.4 6.8 0 1 0 14.8 0a7.4 6.8 0 1 0 -14.8 0zM572.2 1023.6a7.4 6.8 0 1 0 14.8 0a7.4 6.8 0 1 0 -14.8 0zM574 1024a7.4 6.8 0 1 0 14.8 0a7.4 6.8 0 1 0 -14.8 0zM575.8 1024.4a7.4 6.8 0 1 0 14.8 0a7.4 6.8 0 1 0 -14.8 0zM577.7 1024.8a7.4 6.8 0 1 0 14.8 0a7.4 6.8 0 1 0 -14.8 0zM579.5 1025.2a7.4 6.8 0 1 0 14.8 0a7.4 6.8 0 1 0 -14.8 0zM581.3 1025.6a7.4 6.8 0 1 0 14.8 0a7.4 6.8 0 1 0 -14.8 0zM583.1 1026a7.4 6.8 0 1 0 14.8 0a7.4 6.8 0 1 0 -14.8 0zM584.9 1026.5a7.4 6.8 0 1 0 14.8 0a7.4 6.8 0 1 0 -14.8 0zM586.7 1026.9a7.4 6.8 0 1 0 14.8 0a7.4 6.8 0 1 0 -14.8 0zM588.5 1027.4a7.4 6.8 0 1 0 14.8 0a7.4 6.8 0 1 0 -14.8 0zM590.4 1027.8a7.4 6.8 0 1 0 14.8 0a7.4 6.8 0 1 0 -14.8 0zM592.2 1028.3a7.4 6.8 0 1 0 14.8 0a7.4 6.8 0 1 0 -14.8 0zM594 1028.8a7.4 6.8 0 1 0 14.8 0a7.4 6.8 0 1 0 -14.8 0zM595.8 1029.2a7.4 6.8 0 1 0 14.8 0a7.4 6.8 0 1 0 -14.8 0zM597.6 1029.7a7.4 6.8 0 1 0 14.8 0a7.4 6.8 0 1 0 -14.8 0zM599.4 1030.2a7.4 6.8 0 1 0 14.8 0a7.4 6.8 0 1 0 -14.8 0zM601.2 1030.6a7.4 6.8 0 1 0 14.8 0a7.4 6.8 0 1 0 -14.8 0zM603.1 1031.1a7.4 6.8 0 1 0 14.8 0a7.4 6.8 0 1 0 -14.8 0zM604.9 1031.6a7.4 6.8 0 1 0 14.8 0a7.4 6.8 0 1 0 -14.8 0zM606.7 1032a7.4 6.8 0 1 0 14.8 0a7.4 6.8 0 1 0 -14.8 0zM608.5 1032.5a7.4 6.8 0 1 0 14.8 0a7.4 6.8 0 1 0 -14.8 0zM610.3 1032.9a7.4 6.8 0 1 0 14.8 0a7.4 6.8 0 1 0 -14.8 0zM612.1 1033.4a7.4 6.8 0 1 0 14.8 0a7.4 6.8 0 1 0 -14.8 0zM613.9 1033.9a7.4 6.8 0 1 0 14.8 0a7.4 6.8 0 1 0 -14.8 0zM615.8 1034.3a7.4 6.8 0 1 0 14.8 0a7.4 6.8 0 1 0 -14.8 0zM617.6 1034.8a7.4 6.8 0 1 0 14.8 0a7.4 6.8 0 1 0 -14.8 0zM619.4 1035.2a7.4 6.8 0 1 0 14.8 0a7.4 6.8 0 1 0 -14.8 0zM621.2 1035.7a7.4 6.8 0 1 0 14.8 0a7.4 6.8 0 1 0 -14.8 0zM623 1036.2a7.4 6.8 0 1 0 14.8 0a7.4 6.8 0 1 0 -14.8 0zM624.8 1036.6a7.4 6.8 0 1 0 14.8 0a7.4 6.8 0 1 0 -14.8 0zM626.6 1037.1a7.4 6.8 0 1 0 14.8 0a7.4 6.8 0 1 0 -14.8 0zM628.5 1037.6a7.4 6.8 0 1 0 14.8 0a7.4 6.8 0 1 0 -14.8 0zM630.3 1038.1a7.4 6.8 0 1 0 14.8 0a7.4 6.8 0 1 0 -14.8 0zM632.1 1038.6a7.4 6.8 0 1 0 14.8 0a7.4 6.8 0 1 0 -14.8 0zM633.9 1039.1a7.4 6.8 0 1 0 14.8 0a7.4 6.8 0 1 0 -14.8 0zM635.7 1039.5a7.4 6.8 0 1 0 14.8 0a7.4 6.8 0 1 0 -14.8 0zM637.5 1040a7.4 6.8 0 1 0 14.8 0a7.4 6.8 0 1 0 -14.8 0zM639.3 1040.5a7.4 6.8 0 1 0 14.8 0a7.4 6.8 0 1 0 -14.8 0zM641.2 1041.1a7.4 6.8 0 1 0 14.8 0a7.4 6.8 0 1 0 -14.8 0zM643 1041.6a7.4 6.8 0 1 0 14.8 0a7.4 6.8 0 1 0 -14.8 0zM644.8 1042.1a7.4 6.8 0 1 0 14.8 0a7.4 6.8 0 1 0 -14.8 0zM646.6 1042.6a7.4 6.8 0 1 0 14.8 0a7.4 6.8 0 1 0 -14.8 0zM648.4 1043.1a7.4 6.8 0 1 0 14.8 0a7.4 6.8 0 1 0 -14.8 0zM650.2 1043.6a7.4 6.8 0 1 0 14.8 0a7.4 6.8 0 1 0 -14.8 0zM652 1044.2a7.4 6.8 0 1 0 14.8 0a7.4 6.8 0 1 0 -14.8 0zM653.9 1044.7a7.4 6.8 0 1 0 14.8 0a7.4 6.8 0 1 0 -14.8 0zM655.7 1045.2a7.4 6.8 0 1 0 14.8 0a7.4 6.8 0 1 0 -14.8 0zM657.5 1045.8a7.4 6.8 0 1 0 14.8 0a7.4 6.8 0 1 0 -14.8 0zM659.3 1046.3a7.4 6.8 0 1 0 14.8 0a7.4 6.8 0 1 0 -14.8 0zM661.1 1046.8a7.4 6.8 0 1 0 14.8 0a7.4 6.8 0 1 0 -14.8 0zM662.9 1047.4a7.4 6.8 0 1 0 14.8 0a7.4 6.8 0 1 0 -14.8 0zM664.7 1047.9a7.4 6.8 0 1 0 14.8 0a7.4 6.8 0 1 0 -14.8 0zM666.5 1048.5a7.4 6.8 0 1 0 14.8 0a7.4 6.8 0 1 0 -14.8 0zM668.4 1049a7.4 6.8 0 1 0 14.8 0a7.4 6.8 0 1 0 -14.8 0zM670.2 1049.6a7.4 6.8 0 1 0 14.8 0a7.4 6.8 0 1 0 -14.8 0zM672 1050.2a7.4 6.8 0 1 0 14.8 0a7.4 6.8 0 1 0 -14.8 0zM673.8 1050.8a7.4 6.8 0 1 0 14.8 0a7.4 6.8 0 1 0 -14.8 0zM675.6 1051.3a7.4 6.8 0 1 0 14.8 0a7.4 6.8 0 1 0 -14.8 0zM677.4 1051.9a7.4 6.8 0 1 0 14.8 0a7.4 6.8 0 1 0 -14.8 0zM679.2 1052.5a7.4 6.8 0 1 0 14.8 0a7.4 6.8 0 1 0 -14.8 0zM681.1 1053.1a7.4 6.8 0 1 0 14.8 0a7.4 6.8 0 1 0 -14.8 0zM682.9 1053.7a7.4 6.8 0 1 0 14.8 0a7.4 6.8 0 1 0 -14.8 0zM684.7 1054.3a7.4 6.8 0 1 0 14.8 0a7.4 6.8 0 1 0 -14.8 0zM686.5 1054.9a7.4 6.8 0 1 0 14.8 0a7.4 6.8 0 1 0 -14.8 0zM688.3 1055.5a7.4 6.8 0 1 0 14.8 0a7.4 6.8 0 1 0 -14.8 0zM690.1 1056.1a7.4 6.8 0 1 0 14.8 0a7.4 6.8 0 1 0 -14.8 0zM691.9 1056.7a7.4 6.8 0 1 0 14.8 0a7.4 6.8 0 1 0 -14.8 0zM693.8 1057.3a7.4 6.8 0 1 0 14.8 0a7.4 6.8 0 1 0 -14.8 0zM695.6 1057.9a7.4 6.8 0 1 0 14.8 0a7.4 6.8 0 1 0 -14.8 0zM697.4 1058.5a7.4 6.8 0 1 0 14.8 0a7.4 6.8 0 1 0 -14.8 0zM699.2 1059.2a7.4 6.8 0 1 0 14.8 0a7.4 6.8 0 1 0 -14.8 0zM701 1059.8a7.4 6.8 0 1 0 14.8 0a7.4 6.8 0 1 0 -14.8 0zM702.8 1060.4a7.4 6.8 0 1 0 14.8 0a7.4 6.8 0 1 0 -14.8 0zM704.6 1061a7.4 6.8 0 1 0 14.8 0a7.4 6.8 0 1 0 -14.8 0zM706.5 1061.6a7.4 6.8 0 1 0 14.8 0a7.4 6.8 0 1 0 -14.8 0zM708.3 1062.2a7.4 6.8 0 1 0 14.8 0a7.4 6.8 0 1 0 -14.8 0zM710.1 1062.9a7.4 6.8 0 1 0 14.8 0a7.4 6.8 0 1 0 -14.8 0zM711.9 1063.5a7.4 6.8 0 1 0 14.8 0a7.4 6.8 0 1 0 -14.8 0zM713.7 1064.1a7.4 6.8 0 1 0 14.8 0a7.4 6.8 0 1 0 -14.8 0zM715.5 1064.7a7.4 6.8 0 1 0 14.8 0a7.4 6.8 0 1 0 -14.8 0zM717.3 1065.3a7.4 6.8 0 1 0 14.8 0a7.4 6.8 0 1 0 -14.8 0zM719.2 1065.9a7.4 6.8 0 1 0 14.8 0a7.4 6.8 0 1 0 -14.8 0zM721 1066.5a7.4 6.8 0 1 0 14.8 0a7.4 6.8 0 1 0 -14.8 0zM722.8 1067.1a7.4 6.8 0 1 0 14.8 0a7.4 6.8 0 1 0 -14.8 0zM724.6 1067.7a7.4 6.8 0 1 0 14.8 0a7.4 6.8 0 1 0 -14.8 0zM726.4 1068.3a7.4 6.8 0 1 0 14.8 0a7.4 6.8 0 1 0 -14.8 0zM728.2 1068.9a7.4 6.8 0 1 0 14.8 0a7.4 6.8 0 1 0 -14.8 0zM730 1069.5a7.4 6.8 0 1 0 14.8 0a7.4 6.8 0 1 0 -14.8 0zM731.9 1070.1a7.4 6.8 0 1 0 14.8 0a7.4 6.8 0 1 0 -14.8 0zM733.7 1070.7a7.4 6.8 0 1 0 14.8 0a7.4 6.8 0 1 0 -14.8 0zM735.5 1071.2a7.4 6.8 0 1 0 14.8 0a7.4 6.8 0 1 0 -14.8 0zM737.3 1071.8a7.4 6.8 0 1 0 14.8 0a7.4 6.8 0 1 0 -14.8 0zM739.1 1072.3a7.4 6.8 0 1 0 14.8 0a7.4 6.8 0 1 0 -14.8 0zM740.9 1072.8a7.4 6.8 0 1 0 14.8 0a7.4 6.8 0 1 0 -14.8 0zM742.7 1073.3a7.4 6.8 0 1 0 14.8 0a7.4 6.8 0 1 0 -14.8 0zM744.6 1073.8a7.4 6.8 0 1 0 14.8 0a7.4 6.8 0 1 0 -14.8 0zM746.4 1074.3a7.4 6.8 0 1 0 14.8 0a7.4 6.8 0 1 0 -14.8 0zM748.2 1074.7a7.4 6.8 0 1 0 14.8 0a7.4 6.8 0 1 0 -14.8 0zM750 1075.1a7.4 6.8 0 1 0 14.8 0a7.4 6.8 0 1 0 -14.8 0zM751.8 1075.7a7.4 6.8 0 1 0 14.8 0a7.4 6.8 0 1 0 -14.8 0zM753.6 1076.3a7.4 6.8 0 1 0 14.8 0a7.4 6.8 0 1 0 -14.8 0zM755.4 1077.1a7.4 6.8 0 1 0 14.8 0a7.4 6.8 0 1 0 -14.8 0zM757.2 1078a7.4 6.8 0 1 0 14.8 0a7.4 6.8 0 1 0 -14.8 0zM759.1 1079.1a7.4 6.8 0 1 0 14.8 0a7.4 6.8 0 1 0 -14.8 0zM760.9 1080.2a7.4 6.8 0 1 0 14.8 0a7.4 6.8 0 1 0 -14.8 0zM762.7 1081.3a7.4 6.8 0 1 0 14.8 0a7.4 6.8 0 1 0 -14.8 0zM764.5 1082.3a7.4 6.8 0 1 0 14.8 0a7.4 6.8 0 1 0 -14.8 0zM766.3 1083.4a7.4 6.8 0 1 0 14.8 0a7.4 6.8 0 1 0 -14.8 0zM768.1 1084.4a7.4 6.8 0 1 0 14.8 0a7.4 6.8 0 1 0 -14.8 0zM769.9 1085.5a7.4 6.8 0 1 0 14.8 0a7.4 6.8 0 1 0 -14.8 0zM771.8 1086.6a7.4 6.8 0 1 0 14.8 0a7.4 6.8 0 1 0 -14.8 0zM773.6 1087.5a7.4 6.8 0 1 0 14.8 0a7.4 6.8 0 1 0 -14.8 0zM775.4 1088.2a7.4 6.8 0 1 0 14.8 0a7.4 6.8 0 1 0 -14.8 0zM777.2 1088.8a7.4 6.8 0 1 0 14.8 0a7.4 6.8 0 1 0 -14.8 0zM779 1089.4a7.4 6.8 0 1 0 14.8 0a7.4 6.8 0 1 0 -14.8 0zM780.8 1090a7.4 6.8 0 1 0 14.8 0a7.4 6.8 0 1 0 -14.8 0zM782.6 1090.4a7.4 6.8 0 1 0 14.8 0a7.4 6.8 0 1 0 -14.8 0zM784.5 1090.9a7.4 6.8 0 1 0 14.8 0a7.4 6.8 0 1 0 -14.8 0zM786.3 1091.3a7.4 6.8 0 1 0 14.8 0a7.4 6.8 0 1 0 -14.8 0zM788.1 1091.6a7.4 6.8 0 1 0 14.8 0a7.4 6.8 0 1 0 -14.8 0zM789.9 1092a7.4 6.8 0 1 0 14.8 0a7.4 6.8 0 1 0 -14.8 0zM791.7 1092.3a7.4 6.8 0 1 0 14.8 0a7.4 6.8 0 1 0 -14.8 0zM793.5 1092.6a7.4 6.8 0 1 0 14.8 0a7.4 6.8 0 1 0 -14.8 0zM795.3 1092.9a7.4 6.8 0 1 0 14.8 0a7.4 6.8 0 1 0 -14.8 0zM797.2 1093.1a7.4 6.8 0 1 0 14.8 0a7.4 6.8 0 1 0 -14.8 0zM799 1093.4a7.4 6.8 0 1 0 14.8 0a7.4 6.8 0 1 0 -14.8 0zM800.8 1093.6a7.4 6.8 0 1 0 14.8 0a7.4 6.8 0 1 0 -14.8 0zM802.6 1093.9a7.4 6.8 0 1 0 14.8 0a7.4 6.8 0 1 0 -14.8 0zM804.4 1094.1a7.4 6.8 0 1 0 14.8 0a7.4 6.8 0 1 0 -14.8 0zM806.2 1094.4a7.4 6.8 0 1 0 14.8 0a7.4 6.8 0 1 0 -14.8 0zM808 1094.6a7.4 6.8 0 1 0 14.8 0a7.4 6.8 0 1 0 -14.8 0zM809.9 1094.8a7.4 6.8 0 1 0 14.8 0a7.4 6.8 0 1 0 -14.8 0zM811.7 1095.1a7.4 6.8 0 1 0 14.8 0a7.4 6.8 0 1 0 -14.8 0zM813.5 1095.3a7.4 6.8 0 1 0 14.8 0a7.4 6.8 0 1 0 -14.8 0zM815.3 1095.6a7.4 6.8 0 1 0 14.8 0a7.4 6.8 0 1 0 -14.8 0zM817.1 1095.9a7.4 6.8 0 1 0 14.8 0a7.4 6.8 0 1 0 -14.8 0zM818.9 1096.2a7.4 6.8 0 1 0 14.8 0a7.4 6.8 0 1 0 -14.8 0zM820.7 1096.5a7.4 6.8 0 1 0 14.8 0a7.4 6.8 0 1 0 -14.8 0zM822.6 1096.8a7.4 6.8 0 1 0 14.8 0a7.4 6.8 0 1 0 -14.8 0zM824.4 1097.2a7.4 6.8 0 1 0 14.8 0a7.4 6.8 0 1 0 -14.8 0zM826.2 1097.6a7.4 6.8 0 1 0 14.8 0a7.4 6.8 0 1 0 -14.8 0zM828 1098a7.4 6.8 0 1 0 14.8 0a7.4 6.8 0 1 0 -14.8 0zM829.8 1098.4a7.4 6.8 0 1 0 14.8 0a7.4 6.8 0 1 0 -14.8 0zM831.6 1098.8a7.4 6.8 0 1 0 14.8 0a7.4 6.8 0 1 0 -14.8 0zM833.4 1099.2a7.4 6.8 0 1 0 14.8 0a7.4 6.8 0 1 0 -14.8 0zM835.2 1099.5a7.4 6.8 0 1 0 14.8 0a7.4 6.8 0 1 0 -14.8 0zM837.1 1099.8a7.4 6.8 0 1 0 14.8 0a7.4 6.8 0 1 0 -14.8 0zM838.9 1100.1a7.4 6.8 0 1 0 14.8 0a7.4 6.8 0 1 0 -14.8 0zM840.7 1100.3a7.4 6.8 0 1 0 14.8 0a7.4 6.8 0 1 0 -14.8 0zM842.5 1100.6a7.4 6.8 0 1 0 14.8 0a7.4 6.8 0 1 0 -14.8 0zM844.3 1100.9a7.4 6.8 0 1 0 14.8 0a7.4 6.8 0 1 0 -14.8 0zM846.1 1101.2a7.4 6.8 0 1 0 14.8 0a7.4 6.8 0 1 0 -14.8 0zM847.9 1101.4a7.4 6.8 0 1 0 14.8 0a7.4 6.8 0 1 0 -14.8 0zM849.8 1101.7a7.4 6.8 0 1 0 14.8 0a7.4 6.8 0 1 0 -14.8 0zM851.6 1102a7.4 6.8 0 1 0 14.8 0a7.4 6.8 0 1 0 -14.8 0zM853.4 1102.3a7.4 6.8 0 1 0 14.8 0a7.4 6.8 0 1 0 -14.8 0zM855.2 1102.6a7.4 6.8 0 1 0 14.8 0a7.4 6.8 0 1 0 -14.8 0zM857 1102.9a7.4 6.8 0 1 0 14.8 0a7.4 6.8 0 1 0 -14.8 0zM858.8 1103.2a7.4 6.8 0 1 0 14.8 0a7.4 6.8 0 1 0 -14.8 0zM860.6 1103.5a7.4 6.8 0 1 0 14.8 0a7.4 6.8 0 1 0 -14.8 0zM862.5 1103.7a7.4 6.8 0 1 0 14.8 0a7.4 6.8 0 1 0 -14.8 0zM864.3 1104a7.4 6.8 0 1 0 14.8 0a7.4 6.8 0 1 0 -14.8 0zM866.1 1104.2a7.4 6.8 0 1 0 14.8 0a7.4 6.8 0 1 0 -14.8 0zM867.9 1104.5a7.4 6.8 0 1 0 14.8 0a7.4 6.8 0 1 0 -14.8 0zM869.7 1104.7a7.4 6.8 0 1 0 14.8 0a7.4 6.8 0 1 0 -14.8 0zM871.5 1104.8a7.4 6.8 0 1 0 14.8 0a7.4 6.8 0 1 0 -14.8 0zM873.3 1105a7.4 6.8 0 1 0 14.8 0a7.4 6.8 0 1 0 -14.8 0zM875.2 1105.1a7.4 6.8 0 1 0 14.8 0a7.4 6.8 0 1 0 -14.8 0zM877 1105.3a7.4 6.8 0 1 0 14.8 0a7.4 6.8 0 1 0 -14.8 0zM878.8 1105.4a7.4 6.8 0 1 0 14.8 0a7.4 6.8 0 1 0 -14.8 0zM880.6 1105.5a7.4 6.8 0 1 0 14.8 0a7.4 6.8 0 1 0 -14.8 0zM882.4 1105.6a7.4 6.8 0 1 0 14.8 0a7.4 6.8 0 1 0 -14.8 0zM884.2 1105.7a7.4 6.8 0 1 0 14.8 0a7.4 6.8 0 1 0 -14.8 0zM886 1105.8a7.4 6.8 0 1 0 14.8 0a7.4 6.8 0 1 0 -14.8 0zM887.9 1105.9a7.4 6.8 0 1 0 14.8 0a7.4 6.8 0 1 0 -14.8 0zM889.7 1105.9a7.4 6.8 0 1 0 14.8 0a7.4 6.8 0 1 0 -14.8 0z"/>
<path fill="#00ff00" d="M164.3 1152l8.8 14h-17.6zM166.1 1122.6l8.8 14h-17.6zM167.9 1104.8l8.8 14h-17.6zM169.7 1090.7l8.8 14h-17.6zM171.6 1080.2l8.8 14h-17.6zM173.4 1071.1l8.8 14h-17.6zM175.2 1063.1l8.8 14h-17.6zM177 1056l8.8 14h-17.6zM178.8 1050l8.8 14h-17.6zM180.6 1044.4l8.8 14h-17.6zM182.4 1039.4l8.8 14h-17.6zM184.3 1035.1l8.8 14h-17.6zM186.1 1031.1l8.8 14h-17.6zM187.9 1027.5l8.8 14h-17.6zM189.7 1024.5l8.8 14h-17.6zM191.5 1026.6l8.8 14h-17.6zM193.3 1031.5l8.8 14h-17.6zM195.1 1037l8.8 14h-17.6zM197 1041.7l8.8 14h-17.6zM198.8 1045.3l8.8 14h-17.6zM200.6 1048.3l8.8 14h-17.6zM202.4 1050.4l8.8 14h-17.6zM204.2 1051.8l8.8 14h-17.6zM206 1052.5l8.8 14h-17.6zM207.8 1052.7l8.8 14h-17.6zM209.7 1052l8.8 14h-17.6zM211.5 1051l8.8 14h-17.6zM213.3 1049.7l8.8 14h-17.6zM215.1 1048.5l8.8 14h-17.6zM216.9 1046.6l8.8 14h-17.6zM218.7 1044.8l8.8 14h-17.6zM220.5 1044.2l8.8 14h-17.6zM222.3 1041.4l8.8 14h-17.6zM224.2 1040.8l8.8 14h-17.6zM226 1038.3l8.8 14h-17.6zM227.8 1036.7l8.8 14h-17.6zM229.6 1035.6l8.8 14h-17.6zM231.4 1033l8.8 14h-17.6zM233.2 1031.4l8.8 14h-17.6zM235 1029l8.8 14h-17.6zM236.9 1027.5l8.8 14h-17.6zM238.7 1025.2l8.8 14h-17.6zM240.5 1022.9l8.8 14h-17.6zM242.3 1020.5l8.8 14h-17.6zM244.1 1018.8l8.8 14h-17.6zM245.9 1017l8.8 14h-17.6zM247.7 1014.7l8.8 14h-17.6zM249.6 1013l8.8 14h-17.6zM251.4 1010.6l8.8 14h-17.6zM253.2 1009l8.8 14h-17.6zM255 1007l8.8 14h-17.6zM256.8 1005.2l8.8 14h-17.6zM258.6 1003.2l8.8 14h-17.6zM260.4 1001.2l8.8 14h-17.6zM262.3 998.8l8.8 14h-17.6zM264.1 996.9l8.8 14h-17.6zM265.9 995.4l8.8 14h-17.6zM267.7 992.8l8.8 14h-17.6zM269.5 991.3l8.8 14h-17.6zM271.3 989.7l8.8 14h-17.6zM273.1 987.7l8.8 14h-17.6zM275 985.3l8.8 14h-17.6zM276.8 983.1l8.8 14h-17.6zM278.6 981.6l8.8 14h-17.6zM280.4 979.8l8.8 14h-17.6zM282.2 977.7l8.8 14h-17.6zM284 975.6l8.8 14h-17.6zM285.8 973.9l8.8 14h-17.6zM287.7 971.6l8.8 14h-17.6zM289.5 970l8.8 14h-17.6zM291.3 968l8.8 14h-17.6zM293.1 966.8l8.8 14h-17.6zM294.9 965.3l8.8 14h-17.6zM296.7 962.6l8.8 14h-17.6zM298.5 960.7l8.8 14h-17.6zM300.4 959.8l8.8 14h-17.6zM302.2 950.1l8.8 14h-17.6zM304 946.7l8.8 14h-17.6zM305.8 942.3l8.8 14h-17.6zM307.6 938.5l8.8 14h-17.6zM309.4 935.3l8.8 14h-17.6zM311.2 931.4l8.8 14h-17.6zM313 927.9l8.8 14h-17.6zM314.9 924.5l8.8 14h-17.6zM316.7 920.8l8.8 14h-17.6zM318.5 918.2l8.8 14h-17.6zM320.3 915.6l8.8 14h-17.6zM322.1 913.9l8.8 14h-17.6zM323.9 912.5l8.8 14h-17.6zM325.7 912.2l8.8 14h-17.6zM327.6 911.2l8.8 14h-17.6zM329.4 882.6l8.8 14h-17.6zM331.2 873.3l8.8 14h-17.6zM333 865.8l8.8 14h-17.6zM334.8 857.9l8.8 14h-17.6zM336.6 851l8.8 14h-17.6zM338.4 844.4l8.8 14h-17.6zM340.3 843.8l8.8 14h-17.6zM342.1 843.7l8.8 14h-17.6zM343.9 844l8.8 14h-17.6zM345.7 843.9l8.8 14h-17.6zM347.5 843.5l8.8 14h-17.6zM349.3 843.5l8.8 14h-17.6zM351.1 842.2l8.8 14h-17.6zM353 842.6l8.8 14h-17.6zM354.8 841.9l8.8 14h-17.6zM356.6 841.1l8.8 14h-17.6zM358.4 841.9l8.8 14h-17.6zM360.2 841.4l8.8 14h-17.6zM362 841.2l8.8 14h-17.6zM363.8 841.6l8.8 14h-17.6zM365.7 833.2l8.8 14h-17.6zM367.5 831.8l8.8 14h-17.6zM369.3 831.9l8.8 14h-17.6zM371.1 831.3l8.8 14h-17.6zM372.9 829.9l8.8 14h-17.6zM374.7 829.7l8.8 14h-17.6zM376.5 829.4l8.8 14h-17.6zM378.4 828.3l8.8 14h-17.6zM380.2 828.2l8.8 14h-17.6zM382 827l8.8 14h-17.6zM383.8 826.8l8.8 14h-17.6zM385.6 825.8l8.8 14h-17.6zM387.4 826.1l8.8 14h-17.6zM389.2 825.9l8.8 14h-17.6zM391.1 825.5l8.8 14h-17.6zM392.9 825.3l8.8 14h-17.6zM394.7 825.4l8.8 14h-17.6zM396.5 825.5l8.8 14h-17.6zM398.3 824.3l8.8 14h-17.6zM400.1 824l8.8 14h-17.6zM401.9 823.4l8.8 14h-17.6zM403.7 823.4l8.8 14h-17.6zM405.6 823.4l8.8 14h-17.6zM407.4 824.1l8.8 14h-17.6zM409.2 823.3l8.8 14h-17.6zM411 823.5l8.8 14h-17.6zM412.8 823.4l8.8 14h-17.6zM414.6 823.4l8.8 14h-17.6zM416.4 823.9l8.8 14h-17.6zM418.3 824.7l8.8 14h-17.6zM420.1 825l8.8 14h-17.6zM421.9 824.9l8.8 14h-17.6zM423.7 825.1l8.8 14h-17.6zM425.5 825.9l8.8 14h-17.6zM427.3 825.7l8.8 14h-17.6zM429.1 825.9l8.8 14h-17.6zM431 826.3l8.8 14h-17.6zM432.8 825.8l8.8 14h-17.6zM434.6 826.8l8.8 14h-17.6zM436.4 826.1l8.8 14h-17.6zM438.2 826.8l8.8 14h-17.6zM440 827.5l8.8 14h-17.6zM441.8 827.2l8.8 14h-17.6zM443.7 827.1l8.8 14h-17.6zM445.5 827.8l8.8 14h-17.6zM447.3 828.2l8.8 14h-17.6zM449.1 828.2l8.8 14h-17.6zM450.9 827.8l8.8 14h-17.6zM452.7 829.1l8.8 14h-17.6zM454.5 828.3l8.8 14h-17.6zM456.4 829.5l8.8 14h-17.6zM458.2 830.1l8.8 14h-17.6zM460 829.5l8.8 14h-17.6zM461.8 830.3l8.8 14h-17.6zM463.6 830.9l8.8 14h-17.6zM465.4 830.7l8.8 14h-17.6zM467.2 831.1l8.8 14h-17.6zM469.1 831.3l8.8 14h-17.6zM470.9 831.8l8.8 14h-17.6zM472.7 832.2l8.8 14h-17.6zM474.5 832.8l8.8 14h-17.6zM476.3 833.8l8.8 14h-17.6zM478.1 834.1l8.8 14h-17.6zM479.9 834.6l8.8 14h-17.6zM481.8 834.9l8.8 14h-17.6zM483.6 835.5l8.8 14h-17.6zM485.4 835.1l8.8 14h-17.6zM487.2 836l8.8 14h-17.6zM489 835.8l8.8 14h-17.6zM490.8 836.8l8.8 14h-17.6zM492.6 837.7l8.8 14h-17.6zM494.4 837.7l8.8 14h-17.6zM496.3 837.9l8.8 14h-17.6zM498.1 838.4l8.8 14h-17.6zM499.9 838.9l8.8 14h-17.6zM501.7 840l8.8 14h-17.6zM503.5 840.5l8.8 14h-17.6zM505.3 840.7l8.8 14h-17.6zM507.1 841.5l8.8 14h-17.6zM509 841.6l8.8 14h-17.6zM510.8 841.5l8.8 14h-17.6zM512.6 842.2l8.8 14h-17.6zM514.4 843l8.8 14h-17.6zM516.2 843.4l8.8 14h-17.6zM518 843.8l8.8 14h-17.6zM519.8 844.1l8.8 14h-17.6zM521.7 844.1l8.8 14h-17.6zM523.5 845.6l8.8 14h-17.6zM525.3 845.2l8.8 14h-17.6zM527.1 846.6l8.8 14h-17.6zM528.9 846.1l8.8 14h-17.6zM530.7 847.7l8.8 14h-17.6zM532.5 847.5l8.8 14h-17.6zM534.4 848.6l8.8 14h-17.6zM536.2 848.2l8.8 14h-17.6zM538 849.3l8.8 14h-17.6zM539.8 849.6l8.8 14h-17.6zM541.6 850.8l8.8 14h-17.6zM543.4 851.3l8.8 14h-17.6zM545.2 851.7l8.8 14h-17.6zM547.1 852.6l8.8 14h-17.6zM548.9 853.6l8.8 14h-17.6zM550.7 853.2l8.8 14h-17.6zM552.5 854.4l8.8 14h-17.6zM554.3 855.2l8.8 14h-17.6zM556.1 855.8l8.8 14h-17.6zM557.9 856l8.8 14h-17.6zM559.8 857.5l8.8 14h-17.6zM561.6 857.4l8.8 14h-17.6zM563.4 858.8l8.8 14h-17.6zM565.2 859.1l8.8 14h-17.6zM567 859.4l8.8 14h-17.6zM568.8 860.9l8.8 14h-17.6zM570.6 860.8l8.8 14h-17.6zM572.5 862.4l8.8 14h-17.6zM574.3 862.9l8.8 14h-17.6zM576.1 864l8.8 14h-17.6zM577.9 864.7l8.8 14h-17.6zM579.7 865l8.8 14h-17.6zM581.5 865.5l8.8 14h-17.6zM583.3 866.5l8.8 14h-17.6zM585.1 867l8.8 14h-17.6zM587 868.6l8.8 14h-17.6zM588.8 868.8l8.8 14h-17.6zM590.6 869.9l8.8 14h-17.6zM592.4 870.9l8.8 14h-17.6zM594.2 872l8.8 14h-17.6zM596 873.3l8.8 14h-17.6zM597.8 874l8.8 14h-17.6zM599.7 875.1l8.8 14h-17.6zM601.5 875.6l8.8 14h-17.6zM603.3 876.9l8.8 14h-17.6zM605.1 877.7l8.8 14h-17.6zM606.9 879.4l8.8 14h-17.6zM608.7 879.5l8.8 14h-17.6zM610.5 881.2l8.8 14h-17.6zM612.4 882.3l8.8 14h-17.6zM614.2 883l8.8 14h-17.6zM616 883.4l8.8 14h-17.6zM617.8 884.6l8.8 14h-17.6zM619.6 885.6l8.8 14h-17.6zM621.4 886.6l8.8 14h-17.6zM623.2 887.5l8.8 14h-17.6zM625.1 889.4l8.8 14h-17.6zM626.9 890.1l8.8 14h-17.6zM628.7 891.2l8.8 14h-17.6zM630.5 891.9l8.8 14h-17.6zM632.3 892.5l8.8 14h-17.6zM634.1 894.1l8.8 14h-17.6zM635.9 894.6l8.8 14h-17.6zM637.8 895.2l8.8 14h-17.6zM639.6 896.8l8.8 14h-17.6zM641.4 897.3l8.8 14h-17.6zM643.2 898.9l8.8 14h-17.6zM645 899.8l8.8 14h-17.6zM646.8 900.3l8.8 14h-17.6zM648.6 901.5l8.8 14h-17.6zM650.5 902.8l8.8 14h-17.6zM652.3 903.7l8.8 14h-17.6zM654.1 904.6l8.8 14h-17.6zM655.9 905.2l8.8 14h-17.6zM657.7 906.4l8.8 14h-17.6zM659.5 907.9l8.8 14h-17.6zM661.3 908.8l8.8 14h-17.6zM663.2 910.2l8.8 14h-17.6zM665 911.3l8.8 14h-17.6zM666.8 912.1l8.8 14h-17.6zM668.6 913l8.8 14h-17.6zM670.4 914.9l8.8 14h-17.6zM672.2 915.7l8.8 14h-17.6zM674 917.2l8.8 14h-17.6zM675.8 917.9l8.8 14h-17.6zM677.7 919.1l8.8 14h-17.6zM679.5 920.7l8.8 14h-17.6zM681.3 922.3l8.8 14h-17.6zM683.1 922.9l8.8 14h-17.6zM684.9 924.9l8.8 14h-17.6zM686.7 926.3l8.8 14h-17.6zM688.5 927.4l8.8 14h-17.6zM690.4 928.8l8.8 14h-17.6zM692.2 929.4l8.8 14h-17.6zM694 930.6l8.8 14h-17.6zM695.8 932.2l8.8 14h-17.6zM697.6 933.3l8.8 14h-17.6zM699.4 935l8.8 14h-17.6zM701.2 936.8l8.8 14h-17.6zM703.1 937.5l8.8 14h-17.6zM704.9 939.6l8.8 14h-17.6zM706.7 940.5l8.8 14h-17.6zM708.5 941.5l8.8 14h-17.6zM710.3 943.4l8.8 14h-17.6zM712.1 944.5l8.8 14h-17.6zM713.9 945.8l8.8 14h-17.6zM715.8 947.3l8.8 14h-17.6zM717.6 949.2l8.8 14h-17.6zM719.4 950.3l8.8 14h-17.6zM721.2 951l8.8 14h-17.6zM723 953.1l8.8 14h-17.6zM724.8 953.5l8.8 14h-17.6zM726.6 955l8.8 14h-17.6zM728.5 956.3l8.8 14h-17.6zM730.3 958.3l8.8 14h-17.6zM732.1 958.4l8.8 14h-17.6zM733.9 960.4l8.8 14h-17.6zM735.7 961.5l8.8 14h-17.6zM737.5 962.4l8.8 14h-17.6zM739.3 964.3l8.8 14h-17.6zM741.2 965.8l8.8 14h-17.6zM743 967l8.8 14h-17.6zM744.8 967.5l8.8 14h-17.6zM746.6 969.7l8.8 14h-17.6zM748.4 970.5l8.8 14h-17.6zM750.2 972.5l8.8 14h-17.6zM752 973.6l8.8 14h-17.6zM753.9 974.6l8.8 14h-17.6zM755.7 977l8.8 14h-17.6zM757.5 978.4l8.8 14h-17.6zM759.3 979.9l8.8 14h-17.6zM761.1 981.8l8.8 14h-17.6zM762.9 983.2l8.8 14h-17.6zM764.7 984.3l8.8 14h-17.6zM766.5 987l8.8 14h-17.6zM768.4 988l8.8 14h-17.6zM770.2 989.5l8.8 14h-17.6zM772 990.8l8.8 14h-17.6zM773.8 993.1l8.8 14h-17.6zM775.6 994.9l8.8 14h-17.6zM777.4 995.8l8.8 14h-17.6zM779.2 997.5l8.8 14h-17.6zM781.1 998.2l8.8 14h-17.6zM782.9 999.3l8.8 14h-17.6zM784.7 1000.1l8.8 14h-17.6zM786.5 1000.9l8.8 14h-17.6zM788.3 1002l8.8 14h-17.6zM790.1 1002.4l8.8 14h-17.6zM791.9 1002.8l8.8 14h-17.6zM793.8 1004.2l8.8 14h-17.6zM795.6 1004.4l8.8 14h-17.6zM797.4 1005.2l8.8 14h-17.6zM799.2 1005.7l8.8 14h-17.6zM801 1006.3l8.8 14h-17.6zM802.8 1007.8l8.8 14h-17.6zM804.6 1008.3l8.8 14h-17.6zM806.5 1009.7l8.8 14h-17.6zM808.3 1009.3l8.8 14h-17.6zM810.1 1011.1l8.8 14h-17.6zM811.9 1010.9l8.8 14h-17.6zM813.7 1011.8l8.8 14h-17.6zM815.5 1012.4l8.8 14h-17.6zM817.3 1013.8l8.8 14h-17.6zM819.2 1014.4l8.8 14h-17.6zM821 1015.1l8.8 14h-17.6zM822.8 1016.6l8.8 14h-17.6zM824.6 1016.9l8.8 14h-17.6zM826.4 1018.1l8.8 14h-17.6zM828.2 1018.8l8.8 14h-17.6zM830 1018.9l8.8 14h-17.6zM831.9 1020l8.8 14h-17.6zM833.7 1020.2l8.8 14h-17.6zM835.5 1021.2l8.8 14h-17.6zM837.3 1022.3l8.8 14h-17.6zM839.1 1022.9l8.8 14h-17.6zM840.9 1023.1l8.8 14h-17.6zM842.7 1023.8l8.8 14h-17.6zM844.5 1025.4l8.8 14h-17.6zM846.4 1026.1l8.8 14h-17.6zM848.2 1026.8l8.8 14h-17.6zM850 1027.1l8.8 14h-17.6zM851.8 1028.5l8.8 14h-17.6zM853.6 1029l8.8 14h-17.6zM855.4 1029.1l8.8 14h-17.6zM857.2 1029.8l8.8 14h-17.6zM859.1 1031.1l8.8 14h-17.6zM860.9 1032.2l8.8 14h-17.6zM862.7 1032.4l8.8 14h-17.6zM864.5 1032.7l8.8 14h-17.6zM866.3 1033.9l8.8 14h-17.6zM868.1 1033.9l8.8 14h-17.6zM869.9 1035.1l8.8 14h-17.6zM871.8 1035.4l8.8 14h-17.6zM873.6 1035.5l8.8 14h-17.6zM875.4 1036.7l8.8 14h-17.6zM877.2 1037.3l8.8 14h-17.6zM879 1038.3l8.8 14h-17.6zM880.8 1038.6l8.8 14h-17.6zM882.6 1038.6l8.8 14h-17.6zM884.5 1039.5l8.8 14h-17.6zM886.3 1039.5l8.8 14h-17.6zM888.1 1040.4l8.8 14h-17.6zM889.9 1040.8l8.8 14h-17.6zM891.7 1041.2l8.8 14h-17.6zM893.5 1041.1l8.8 14h-17.6zM895.3 1042.1l8.8 14h-17.6zM897.2 1042.3l8.8 14h-17.6zM899 1042.9l8.8 14h-17.6z"/>
<rect x="354.4" y="784.4" width="13.6" height="12.1" fill="#000"/>
<ellipse cx="497.5" cy="790.4" rx="7.65" ry="7.2" fill="#ff0000"/>
<path d="M628.3 781L637.4 795.1H619.2z" fill="#00ff00"/>
<defs><filter id="gt" filterUnits="userSpaceOnUse" x="0" y="0" width="942" height="1477"><feOffset dx="0" dy="0"/></filter></defs>
<g filter="url(#gt)">
<text transform="translate(95.8,111.9) scale(1.1299,1)" x="-1.20" y="0" font-size="30" font-weight="bold">2.8</text>
<text transform="translate(95.8,246.1) scale(1.1111,1)" x="-1.20" y="0" font-size="30" font-weight="bold">2.4</text>
<text transform="translate(95.8,380.3) scale(1.1299,1)" x="-1.20" y="0" font-size="30" font-weight="bold">2.0</text>
<text transform="translate(95.8,514.5) scale(1.1594,1)" x="-2.40" y="0" font-size="30" font-weight="bold">1.6</text>
<text transform="translate(148.9,608.9) scale(1.1158,1)" x="-0.90" y="0" font-size="30" font-weight="bold">0.2</text>
<text transform="translate(242.9,608.9) scale(1.1064,1)" x="-0.90" y="0" font-size="30" font-weight="bold">0.3</text>
<text transform="translate(336.9,608.9) scale(1.0882,1)" x="-0.90" y="0" font-size="30" font-weight="bold">0.4</text>
<text transform="translate(430.9,608.9) scale(1.1064,1)" x="-0.90" y="0" font-size="30" font-weight="bold">0.5</text>
<text transform="translate(525,608.9) scale(1.0972,1)" x="-0.90" y="0" font-size="30" font-weight="bold">0.6</text>
<text transform="translate(619,608.9) scale(1.0972,1)" x="-0.90" y="0" font-size="30" font-weight="bold">0.7</text>
<text transform="translate(713,608.9) scale(1.1064,1)" x="-0.90" y="0" font-size="30" font-weight="bold">0.8</text>
<text transform="translate(807,608.9) scale(1.1064,1)" x="-0.90" y="0" font-size="30" font-weight="bold">0.9</text>
<text transform="translate(901,608.9) scale(1.1550,1)" x="-2.40" y="0" font-size="30" font-weight="bold">1.0</text>
<text transform="translate(80,411.4) rotate(-90) scale(0.8849,1)" x="-0.34" y="0" font-size="33.5" font-weight="bold">Refractive index, n</text>
<text transform="translate(423.9,661.4) scale(1.1069,1)" x="-0.3" y="0" font-size="30" font-weight="bold">Wavelength (<tspan font-weight="normal">μ</tspan>m)</text>
<text transform="translate(487.7,714.2) scale(1.0358,1)" x="-1.84" y="0" font-size="46" font-weight="bold">(a)</text>
<text transform="translate(355.8,44.6) scale(1.1187,1)" x="-1.09" y="0" font-size="27.2">CMC</text>
<text transform="translate(496.8,44.6) scale(1.0807,1)" x="-1.09" y="0" font-size="27.2">CS-1</text>
<text transform="translate(632.3,44.6) scale(1.1182,1)" x="-1.09" y="0" font-size="27.2">CS-2</text>
<text transform="translate(229,99) scale(1.1382,1)" x="-0.41" y="0" font-size="13.7" font-weight="bold">3.2</text>
<text transform="translate(229,152.5) scale(1.1382,1)" x="-0.55" y="0" font-size="13.7" font-weight="bold">2.8</text>
<text transform="translate(229,206) scale(1.1192,1)" x="-0.55" y="0" font-size="13.7" font-weight="bold">2.4</text>
<text transform="translate(229,259.5) scale(1.1382,1)" x="-0.55" y="0" font-size="13.7" font-weight="bold">2.0</text>
<text transform="translate(229,313) scale(1.1679,1)" x="-1.10" y="0" font-size="13.7" font-weight="bold">1.6</text>
<text transform="translate(248.7,352.2) scale(1.0900,1)" x="-0.41" y="0" font-size="13.7" font-weight="bold">-1</text>
<text transform="translate(314.1,352.2) scale(1.0900,1)" x="-0.41" y="0" font-size="13.7" font-weight="bold">0</text>
<text transform="translate(377.2,352.2) scale(1.0900,1)" x="-1.10" y="0" font-size="13.7" font-weight="bold">1</text>
<text transform="translate(439.5,352.2) scale(1.0900,1)" x="-0.55" y="0" font-size="13.7" font-weight="bold">2</text>
<text transform="translate(501.9,352.2) scale(1.0900,1)" x="-0.41" y="0" font-size="13.7" font-weight="bold">3</text>
<text transform="translate(564.2,352.2) scale(1.0900,1)" x="-0.14" y="0" font-size="13.7" font-weight="bold">4</text>
<text transform="translate(627.2,352.2) scale(1.0900,1)" x="-0.55" y="0" font-size="13.7" font-weight="bold">5</text>
<text transform="translate(221.1,259.5) rotate(-90) scale(0.8679,1)" x="-0.16" y="0" font-size="16" font-weight="bold">Refractive index, n</text>
<text transform="translate(296.5,376.5) scale(1.0942,1)" x="-0.58" y="0" font-size="14.5" font-weight="bold">CuO@ZnO core/shell concentration (wt.%)</text>
<text transform="translate(37,870.3) scale(1.1377,1)" x="-0.85" y="0" font-size="28.2" font-weight="bold">6.0x10</text>
<text transform="translate(125.2,859) scale(1.1088,1)" x="-0.55" y="0" font-size="18.2" font-weight="bold">-3</text>
<text transform="translate(36.8,1014.4) scale(1.1319,1)" x="-0.28" y="0" font-size="28.2" font-weight="bold">4.0x10</text>
<text transform="translate(125.2,1003.1) scale(1.1088,1)" x="-0.55" y="0" font-size="18.2" font-weight="bold">-3</text>
<text transform="translate(37,1159.2) scale(1.1419,1)" x="-1.13" y="0" font-size="28.2" font-weight="bold">2.0x10</text>
<text transform="translate(125.2,1147.9) scale(1.1088,1)" x="-0.55" y="0" font-size="18.2" font-weight="bold">-3</text>
<text transform="translate(103.2,1302.4) scale(1.1204,1)" x="-0.85" y="0" font-size="28.2" font-weight="bold">0.0</text>
<text transform="translate(150.4,1327.8) scale(1.1457,1)" x="-1.13" y="0" font-size="28.2" font-weight="bold">200</text>
<text transform="translate(241.1,1327.8) scale(1.1377,1)" x="-0.85" y="0" font-size="28.2" font-weight="bold">300</text>
<text transform="translate(331.8,1327.8) scale(1.1221,1)" x="-0.28" y="0" font-size="28.2" font-weight="bold">400</text>
<text transform="translate(422.5,1327.8) scale(1.1457,1)" x="-1.13" y="0" font-size="28.2" font-weight="bold">500</text>
<text transform="translate(513.2,1327.8) scale(1.1377,1)" x="-0.85" y="0" font-size="28.2" font-weight="bold">600</text>
<text transform="translate(603.9,1327.8) scale(1.1537,1)" x="-1.41" y="0" font-size="28.2" font-weight="bold">700</text>
<text transform="translate(694.6,1327.8) scale(1.1377,1)" x="-0.85" y="0" font-size="28.2" font-weight="bold">800</text>
<text transform="translate(785.3,1327.8) scale(1.1299,1)" x="-0.56" y="0" font-size="28.2" font-weight="bold">900</text>
<text transform="translate(869.5,1327.8) scale(1.1257,1)" x="-2.26" y="0" font-size="28.2" font-weight="bold">1000</text>
<text transform="translate(22.5,1169.5) rotate(-90) scale(0.8901,1)" x="-0.32" y="0" font-size="31.5" font-weight="bold">Extenction Coefficient, k</text>
<text transform="translate(419.7,1376.2) scale(1.1093,1)" x="-0.29" y="0" font-size="29" font-weight="bold">Wavelength (nm)</text>
<text transform="translate(487.6,1467.6) scale(1.0866,1)" x="-1.80" y="0" font-size="45" font-weight="bold">(b)</text>
<text transform="translate(401.6,798.7) scale(1.1017,1)" x="-1.06" y="0" font-size="26.6">CMC</text>
<text transform="translate(538.1,798.7) scale(1.0685,1)" x="-1.06" y="0" font-size="26.6">CS-1</text>
<text transform="translate(669.1,798.7) scale(1.0841,1)" x="-1.06" y="0" font-size="26.6">CS-2</text>
</g>
</svg></body></html>
